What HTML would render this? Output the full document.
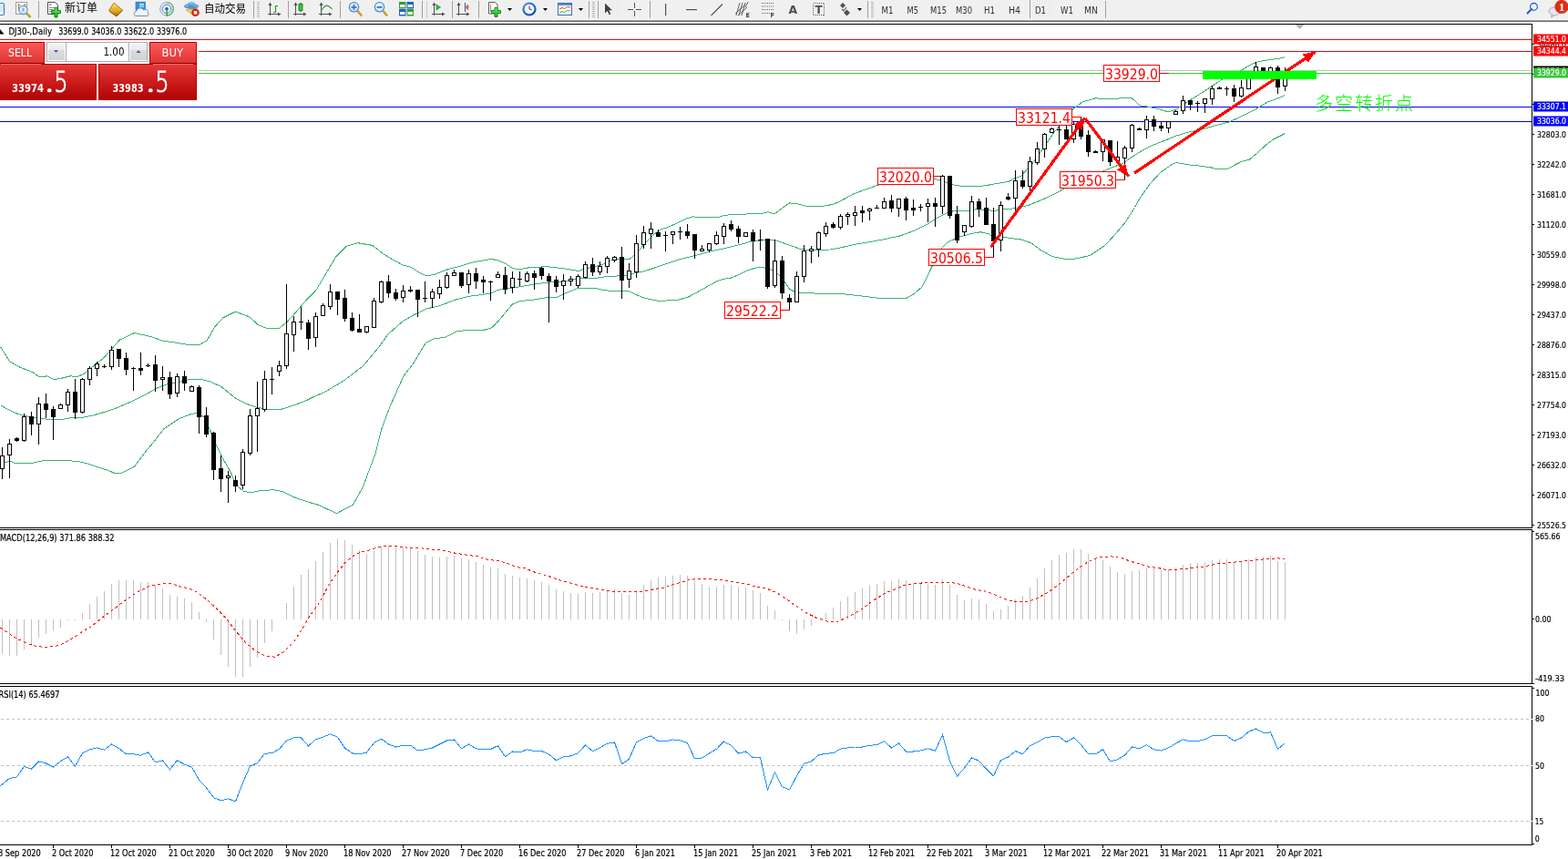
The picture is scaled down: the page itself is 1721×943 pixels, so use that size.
<!DOCTYPE html>
<html><head><meta charset="utf-8"><title>DJ30 Daily</title>
<style>
html,body{margin:0;padding:0;width:1721px;height:943px;overflow:hidden;background:#fff;}
svg{position:absolute;left:0;top:0;display:block}
</style></head><body>
<svg width="1721" height="943" viewBox="0 0 1721 943">
<rect x="0" y="0" width="1721" height="21" fill="#f0f0f0"/>
<rect x="0" y="21" width="1721" height="1" fill="#f6f6f6"/>
<rect x="0" y="22" width="1721" height="1" fill="#a0a0a0"/>
<rect x="0" y="23" width="1721" height="1" fill="#696969"/>
<defs><pattern id="dots" width="2" height="2" patternUnits="userSpaceOnUse"><rect x="0" y="0" width="1" height="1" fill="#e6e6e6"/><rect x="1" y="1" width="1" height="1" fill="#e6e6e6"/></pattern><linearGradient id="gold" x1="0" y1="0" x2="0" y2="1"><stop offset="0" stop-color="#ffe070"/><stop offset="0.6" stop-color="#e0a820"/><stop offset="1" stop-color="#a06810"/></linearGradient><linearGradient id="zoomfill" x1="0" y1="0" x2="0" y2="1"><stop offset="0" stop-color="#f4fbff"/><stop offset="1" stop-color="#c8e4f4"/></linearGradient><radialGradient id="clockg" cx="0.4" cy="0.35" r="0.7"><stop offset="0" stop-color="#6ab0ff"/><stop offset="1" stop-color="#0848b0"/></radialGradient><linearGradient id="hat" x1="0" y1="0" x2="0" y2="1"><stop offset="0" stop-color="#9ad0f0"/><stop offset="1" stop-color="#3c88c8"/></linearGradient><linearGradient id="greenp" x1="0" y1="0" x2="0" y2="1"><stop offset="0" stop-color="#70f070"/><stop offset="1" stop-color="#10b010"/></linearGradient></defs>
<rect x="-8" y="3.5" width="12.5" height="13" rx="1.5" fill="#fff" stroke="#3a7cc8" stroke-width="1.2"/>
<rect x="0" y="5.5" width="4" height="1" fill="#b8d0f0"/>
<rect x="0" y="7.5" width="4" height="1" fill="#b8d0f0"/>
<rect x="0" y="9.5" width="4" height="1" fill="#b8d0f0"/>
<rect x="0" y="11.5" width="4" height="1" fill="#b8d0f0"/>
<rect x="17.5" y="2.5" width="12" height="13" fill="#fff" stroke="#a8a088" stroke-width="1"/>
<path d="M20.5 4v8M20.5 5l2 1M27 4v8M27 5l1.5 1" stroke="#707070" stroke-width="0.8" fill="none"/>
<line x1="29.5" y1="15" x2="33.5" y2="19" stroke="#c8a020" stroke-width="2.6"/>
<circle cx="25.5" cy="11" r="4.6" fill="url(#zoomfill)" stroke="#5a94d8" stroke-width="1.1"/>
<rect x="24.5" y="8.5" width="2" height="4" fill="#98a8b8"/>
<rect x="42" y="1" width="1" height="19" fill="#a0a0a0"/>
<path d="M52.5 2.5h8l3 3v10h-11z" fill="#fff" stroke="#505050" stroke-width="1"/>
<rect x="54" y="4.5" width="2.5" height="1.2" fill="#707070"/><rect x="54" y="8" width="6" height="0.9" fill="#808080"/><rect x="54" y="10" width="5" height="0.9" fill="#808080"/><rect x="54" y="12" width="3" height="0.9" fill="#808080"/>
<path d="M60 8.5h3v3h3.5v3h-3.5v4.5h-3v-4.5h-3.5v-3h3.5z" fill="url(#greenp)" stroke="#0a8a0a" stroke-width="0.9"/>
<text x="71" y="13" font-size="12" font-family="'Liberation Sans', 'Noto Sans CJK SC', sans-serif" fill="#000" textLength="36" lengthAdjust="spacingAndGlyphs">新订单</text>
<path d="M119.5 11.5 L125 3 L134.5 11 L128 18 Z" fill="url(#gold)" stroke="#a06a10" stroke-width="0.8"/>
<path d="M120 12.5 L128 18 L134.5 11.5" fill="none" stroke="#8a5808" stroke-width="0.9"/>
<rect x="149" y="2.2" width="10.5" height="9" fill="#2f8fe8" stroke="#1a68c0" stroke-width="0.6"/>
<rect x="153" y="4" width="5" height="1.5" fill="#d8ecff"/><rect x="153" y="6.5" width="5" height="1.2" fill="#d8ecff"/>
<path d="M148.5 17.5 a3 3 0 0 1 1.2 -5.3 a4.2 4.2 0 0 1 7.8 -1.2 a3.2 3.2 0 0 1 5 3.4 a2 2 0 0 1 -0.5 3.1 z" fill="#f0f4f8" stroke="#6a84a8" stroke-width="0.9"/>
<circle cx="183" cy="9.8" r="7.3" fill="none" stroke="#6090d8" stroke-width="1" opacity="0.8"/>
<circle cx="183" cy="9.8" r="4.8" fill="none" stroke="#4a80d0" stroke-width="1"/>
<path d="M183 2.5 a7.3 7.3 0 0 1 0 14.6" fill="none" stroke="#60b060" stroke-width="1.2"/>
<circle cx="183" cy="9.8" r="1.8" fill="#2050c0"/>
<rect x="182.5" y="10" width="1.3" height="7.5" fill="#20a020"/>
<path d="M204 11 L216 9 L214 18 Z" fill="#f0d050" stroke="#c0a030" stroke-width="0.6"/>
<ellipse cx="210" cy="6.8" rx="7.8" ry="2.6" fill="url(#hat)" stroke="#3a80c0" stroke-width="0.6"/>
<ellipse cx="210" cy="4.8" rx="4.2" ry="3" fill="url(#hat)"/>
<circle cx="214.5" cy="13.8" r="4.3" fill="#d82010"/>
<rect x="212.7" y="12" width="3.6" height="3.6" fill="#fff"/>
<text x="224" y="13.5" font-size="12" font-family="'Liberation Sans', 'Noto Sans CJK SC', sans-serif" fill="#000" textLength="46" lengthAdjust="spacingAndGlyphs">自动交易</text>
<rect x="278" y="1" width="1" height="19" fill="#a0a0a0"/>
<rect x="282" y="2" width="3" height="1" fill="#b8b8b8"/><rect x="282" y="4" width="3" height="1" fill="#b8b8b8"/><rect x="282" y="6" width="3" height="1" fill="#b8b8b8"/><rect x="282" y="8" width="3" height="1" fill="#b8b8b8"/><rect x="282" y="10" width="3" height="1" fill="#b8b8b8"/><rect x="282" y="12" width="3" height="1" fill="#b8b8b8"/><rect x="282" y="14" width="3" height="1" fill="#b8b8b8"/><rect x="282" y="16" width="3" height="1" fill="#b8b8b8"/><rect x="282" y="18" width="3" height="1" fill="#b8b8b8"/>
<rect x="296" y="3" width="1" height="14" fill="#505050"/><polygon points="294.5,6 296.5,2.5 298.5,6" fill="#505050"/><rect x="294" y="15" width="14" height="1" fill="#505050"/><polygon points="305,13.5 308.5,15.5 305,17.5" fill="#505050"/>
<path d="M300 13.5h2.5v-7h2.5" fill="none" stroke="#20a020" stroke-width="1.2"/>
<rect x="316" y="1" width="1" height="19" fill="#a0a0a0"/>
<rect x="317" y="0" width="24" height="20" fill="#f7f7f7"/><rect x="317" y="0" width="24" height="20" fill="url(#dots)"/>
<rect x="324" y="3" width="1" height="14" fill="#505050"/><polygon points="322.5,6 324.5,2.5 326.5,6" fill="#505050"/><rect x="322" y="15" width="14" height="1" fill="#505050"/><polygon points="333,13.5 336.5,15.5 333,17.5" fill="#505050"/>
<rect x="329.5" y="2.5" width="1" height="11" fill="#107010"/>
<rect x="328" y="4.5" width="4" height="7" fill="#30d030" stroke="#107010" stroke-width="0.8"/>
<rect x="352" y="3" width="1" height="14" fill="#505050"/><polygon points="350.5,6 352.5,2.5 354.5,6" fill="#505050"/><rect x="350" y="15" width="14" height="1" fill="#505050"/><polygon points="361,13.5 364.5,15.5 361,17.5" fill="#505050"/>
<path d="M352.5 12 Q357 4 361 7 T364 10" fill="none" stroke="#20a020" stroke-width="1.1"/>
<rect x="373" y="1" width="1" height="19" fill="#a0a0a0"/>
<line x1="392.5" y1="12" x2="397.0" y2="17.5" stroke="#c8a020" stroke-width="2.6"/>
<circle cx="388.5" cy="7.8" r="5.2" fill="url(#zoomfill)" stroke="#4a88d0" stroke-width="1.2"/>
<rect x="385.5" y="7" width="6" height="1.8" fill="#3a78c0"/>
<rect x="387.6" y="4.8" width="1.8" height="6" fill="#3a78c0"/>
<line x1="420.5" y1="12" x2="425.0" y2="17.5" stroke="#c8a020" stroke-width="2.6"/>
<circle cx="416.5" cy="7.8" r="5.2" fill="url(#zoomfill)" stroke="#4a88d0" stroke-width="1.2"/>
<rect x="413.5" y="7" width="6" height="1.8" fill="#3a78c0"/>
<rect x="438" y="2" width="7.5" height="7.5" fill="#30a030"/>
<rect x="439" y="5" width="5.5" height="3" fill="#f0f4f0"/>
<rect x="446.5" y="2" width="7.5" height="7.5" fill="#2060d0"/>
<rect x="447.5" y="5" width="5.5" height="3" fill="#f0f4f0"/>
<rect x="438" y="10" width="7.5" height="7.5" fill="#2060d0"/>
<rect x="439" y="13" width="5.5" height="3" fill="#f0f4f0"/>
<rect x="446.5" y="10" width="7.5" height="7.5" fill="#30a030"/>
<rect x="447.5" y="13" width="5.5" height="3" fill="#f0f4f0"/>
<rect x="463" y="1" width="1" height="19" fill="#a0a0a0"/>
<rect x="468" y="1" width="1" height="19" fill="#c8c8c8"/>
<rect x="469" y="0" width="24" height="20" fill="#f7f7f7"/><rect x="469" y="0" width="24" height="20" fill="url(#dots)"/>
<rect x="476" y="3" width="1" height="14" fill="#505050"/><polygon points="474.5,6 476.5,2.5 478.5,6" fill="#505050"/><rect x="474" y="15" width="14" height="1" fill="#505050"/><polygon points="485,13.5 488.5,15.5 485,17.5" fill="#505050"/>
<polygon points="479,5 479,11 483.5,8" fill="#30c030" stroke="#108010" stroke-width="0.6"/>
<rect x="496" y="1" width="1" height="19" fill="#a0a0a0"/>
<rect x="497" y="0" width="24" height="20" fill="#f7f7f7"/><rect x="497" y="0" width="24" height="20" fill="url(#dots)"/>
<rect x="503" y="3" width="1" height="14" fill="#505050"/><polygon points="501.5,6 503.5,2.5 505.5,6" fill="#505050"/><rect x="501" y="15" width="14" height="1" fill="#505050"/><polygon points="512,13.5 515.5,15.5 512,17.5" fill="#505050"/>
<rect x="510" y="3" width="1" height="10" fill="#2060c0"/>
<path d="M511.5 8h3.5M511.5 8l2.5 -2.5M511.5 8l2.5 2.5" stroke="#e04010" stroke-width="1.1" fill="none"/>
<rect x="525" y="1" width="1" height="19" fill="#a0a0a0"/>
<path d="M536.5 2.5h7l2.5 2.5v10h-9.5z" fill="#fff" stroke="#606060" stroke-width="1"/>
<path d="M538.5 5v8" stroke="#707070" stroke-width="0.8"/>
<path d="M543 8.5h3v3h3.5v3h-3.5v4h-3v-4h-3.5v-3h3.5z" fill="url(#greenp)" stroke="#0a8a0a" stroke-width="0.9"/>
<polygon points="557.0,9 562.0,9 559.5,12" fill="#000"/>
<circle cx="581" cy="10" r="7.6" fill="url(#clockg)"/>
<circle cx="581" cy="10" r="5.3" fill="#f4f8fc"/>
<path d="M581 6.5v3.8h2.8" stroke="#404040" stroke-width="1" fill="none"/>
<polygon points="596.0,9 601.0,9 598.5,12" fill="#000"/>
<rect x="612.5" y="3.5" width="15" height="13" fill="#fff" stroke="#3a6cb0" stroke-width="1"/>
<rect x="613" y="4" width="14" height="2" fill="#5a8ad0"/>
<path d="M614 10l3 -1.5 2.5 1 3 -2 3.5 0.5" stroke="#c03020" stroke-width="0.9" fill="none"/>
<path d="M614 14l3 -1.5 2.5 1 3 -2 3.5 0.5" stroke="#20a020" stroke-width="0.9" fill="none"/>
<polygon points="635.0,9 640.0,9 637.5,12" fill="#000"/>
<rect x="646" y="1" width="1" height="19" fill="#a0a0a0"/>
<rect x="650" y="2" width="3" height="1" fill="#b8b8b8"/><rect x="650" y="4" width="3" height="1" fill="#b8b8b8"/><rect x="650" y="6" width="3" height="1" fill="#b8b8b8"/><rect x="650" y="8" width="3" height="1" fill="#b8b8b8"/><rect x="650" y="10" width="3" height="1" fill="#b8b8b8"/><rect x="650" y="12" width="3" height="1" fill="#b8b8b8"/><rect x="650" y="14" width="3" height="1" fill="#b8b8b8"/><rect x="650" y="16" width="3" height="1" fill="#b8b8b8"/><rect x="650" y="18" width="3" height="1" fill="#b8b8b8"/>
<rect x="656" y="1" width="1" height="19" fill="#a0a0a0"/>
<rect x="657" y="0" width="24" height="20" fill="#f7f7f7"/><rect x="657" y="0" width="24" height="20" fill="url(#dots)"/>
<path d="M664 3.5v11l2.6-2.6 2.2 4.3 1.6-0.8-2.1-4.2h3.6z" fill="#404040"/>
<rect x="689" y="10" width="15" height="1" fill="#505050"/><rect x="696" y="3" width="1" height="15" fill="#505050"/>
<rect x="695" y="9" width="3" height="3" fill="#f0f0f0"/>
<rect x="713" y="1" width="1" height="19" fill="#a0a0a0"/>
<rect x="730" y="4" width="1.2" height="13" fill="#505050"/>
<rect x="753" y="10" width="12" height="1.2" fill="#505050"/>
<line x1="780.5" y1="17" x2="793" y2="4.5" stroke="#505050" stroke-width="1.1"/>
<path d="M807 15l10 -9M810 17l10 -9M812 3l-4 14M815 3l-4 14M818 3l-4 14M821 2l-3 6" stroke="#505050" stroke-width="0.9" fill="none"/>
<text x="818.5" y="18.6" font-size="6.5" font-weight="bold" font-family="'DejaVu Sans', 'Liberation Sans', sans-serif" fill="#404040">E</text>
<line x1="836" y1="3.5" x2="849" y2="3.5" stroke="#606060" stroke-width="1" stroke-dasharray="1 1"/>
<line x1="836" y1="7" x2="849" y2="7" stroke="#606060" stroke-width="1" stroke-dasharray="1 1"/>
<line x1="836" y1="10.5" x2="849" y2="10.5" stroke="#606060" stroke-width="1" stroke-dasharray="1 1"/>
<line x1="836" y1="14.5" x2="849" y2="14.5" stroke="#606060" stroke-width="1" stroke-dasharray="1 1"/>
<text x="845.5" y="19.3" font-size="6.5" font-weight="bold" font-family="'DejaVu Sans', 'Liberation Sans', sans-serif" fill="#404040">F</text>
<text x="865.5" y="15" font-size="12.5" font-weight="bold" font-family="'DejaVu Sans', 'Liberation Sans', sans-serif" fill="#505050">A</text>
<rect x="892.5" y="3.5" width="12" height="13" fill="none" stroke="#606060" stroke-width="1" stroke-dasharray="1 1" shape-rendering="crispEdges"/>
<text x="894.5" y="15" font-size="12" font-weight="bold" font-family="'DejaVu Sans', 'Liberation Sans', sans-serif" fill="#505050">T</text>
<polygon points="922,6 925,3 928,6 925,9" fill="#505050"/><polygon points="926,14 929.5,10.5 933,14 929.5,17.5" fill="#505050"/>
<path d="M924 10l2 2 3-4" stroke="#505050" stroke-width="1.1" fill="none"/>
<polygon points="941.0,9 946.0,9 943.5,12" fill="#000"/>
<rect x="952" y="1" width="1" height="19" fill="#a0a0a0"/>
<rect x="956" y="2" width="3" height="1" fill="#b8b8b8"/><rect x="956" y="4" width="3" height="1" fill="#b8b8b8"/><rect x="956" y="6" width="3" height="1" fill="#b8b8b8"/><rect x="956" y="8" width="3" height="1" fill="#b8b8b8"/><rect x="956" y="10" width="3" height="1" fill="#b8b8b8"/><rect x="956" y="12" width="3" height="1" fill="#b8b8b8"/><rect x="956" y="14" width="3" height="1" fill="#b8b8b8"/><rect x="956" y="16" width="3" height="1" fill="#b8b8b8"/><rect x="956" y="18" width="3" height="1" fill="#b8b8b8"/>
<rect x="1130" y="0" width="25" height="20" fill="#f7f7f7"/><rect x="1130" y="0" width="25" height="20" fill="url(#dots)"/>
<rect x="1130" y="0" width="1" height="20" fill="#a0a0a0"/>
<text x="967.5" y="14.5" font-size="11" font-family="'DejaVu Sans', 'Liberation Sans', sans-serif" fill="#303030" textLength="13" lengthAdjust="spacingAndGlyphs">M1</text>
<text x="995.5" y="14.5" font-size="11" font-family="'DejaVu Sans', 'Liberation Sans', sans-serif" fill="#303030" textLength="12.5" lengthAdjust="spacingAndGlyphs">M5</text>
<text x="1021" y="14.5" font-size="11" font-family="'DejaVu Sans', 'Liberation Sans', sans-serif" fill="#303030" textLength="18" lengthAdjust="spacingAndGlyphs">M15</text>
<text x="1049" y="14.5" font-size="11" font-family="'DejaVu Sans', 'Liberation Sans', sans-serif" fill="#303030" textLength="18" lengthAdjust="spacingAndGlyphs">M30</text>
<text x="1080" y="14.5" font-size="11" font-family="'DejaVu Sans', 'Liberation Sans', sans-serif" fill="#303030" textLength="12" lengthAdjust="spacingAndGlyphs">H1</text>
<text x="1107" y="14.5" font-size="11" font-family="'DejaVu Sans', 'Liberation Sans', sans-serif" fill="#303030" textLength="13" lengthAdjust="spacingAndGlyphs">H4</text>
<text x="1136" y="14.5" font-size="11" font-family="'DejaVu Sans', 'Liberation Sans', sans-serif" fill="#303030" textLength="12" lengthAdjust="spacingAndGlyphs">D1</text>
<text x="1164" y="14.5" font-size="11" font-family="'DejaVu Sans', 'Liberation Sans', sans-serif" fill="#303030" textLength="14" lengthAdjust="spacingAndGlyphs">W1</text>
<text x="1190" y="14.5" font-size="11" font-family="'DejaVu Sans', 'Liberation Sans', sans-serif" fill="#303030" textLength="15" lengthAdjust="spacingAndGlyphs">MN</text>
<rect x="1213" y="1" width="1" height="19" fill="#a0a0a0"/>
<circle cx="1683.5" cy="7.4" r="3.9" fill="#f4f4ff" stroke="#2a62d0" stroke-width="1.3"/>
<line x1="1681" y1="10" x2="1676.5" y2="14.5" stroke="#2a62d0" stroke-width="2.2" stroke-linecap="round"/>
<ellipse cx="1706" cy="12.5" rx="6" ry="4.5" fill="#e4e4f0" stroke="#a8a8a8" stroke-width="0.9"/>
<path d="M1703.5 16l-0.8 3 3-2.4" fill="#e4e4f0" stroke="#909090" stroke-width="0.8"/>
<circle cx="1714" cy="7.5" r="7.6" fill="#dc3018"/>
<text x="1714" y="12" font-size="12.5" font-weight="bold" font-family="'Liberation Serif', serif" fill="#fff" text-anchor="middle">1</text>
<g shape-rendering="crispEdges">
<rect x="0" y="26" width="1682" height="1" fill="#000"/>
<rect x="0" y="579" width="1682" height="1" fill="#000"/>
<rect x="0" y="581" width="1682" height="1" fill="#000"/>
<rect x="0" y="750" width="1682" height="1" fill="#000"/>
<rect x="0" y="753" width="1682" height="1" fill="#000"/>
<rect x="0" y="927" width="1682" height="1" fill="#000"/>
<rect x="1681" y="26" width="1" height="554" fill="#000"/>
<rect x="1681" y="581" width="1" height="170" fill="#000"/>
<rect x="1681" y="753" width="1" height="175" fill="#000"/>
<rect x="0" y="43" width="1681" height="1" fill="#ff0000"/>
<rect x="0" y="56" width="1681" height="1" fill="#ff0000"/>
<rect x="0" y="77" width="1681" height="1" fill="#c0c0c0"/>
<rect x="0" y="80" width="1681" height="1" fill="#32cd32"/>
<rect x="0" y="117" width="1681" height="1" fill="#0000ff"/>
<rect x="0" y="133" width="1681" height="1" fill="#0000ff"/>
<polyline points="0.5,380.7 10.7,396.8 22.5,403.5 36.2,408.7 42.9,413.8 51.5,412.9 59.9,416.7 68.5,415 76.9,412.9 85.5,413.3 92.2,410.4 102.5,401.9 112.5,394.3 122.5,383.2 131.3,373.1 147.5,365.5 165.5,369.5 178.2,374 196.2,376.7 208.8,378.9 218.8,378.5 226.9,374 235.9,358.7 244.9,348.8 258.4,342.1 273.7,347.8 283.6,356.9 293.5,360.5 306.2,360.5 315.2,353.3 326.1,341.2 335,330.7 346.5,319.2 353.1,308.2 369.3,281.1 380.1,270.3 392.7,266.7 408.9,269.4 420.5,278.5 427.3,282.8 442.5,291.2 451.1,293.3 459.5,298.9 468,302.8 476.5,301.5 491.8,295.5 508.8,291.2 515.5,288.7 525.8,286.7 539.3,284.5 545.5,285.5 554,288.9 562.5,294.5 569.3,296 579.5,294 599.8,292.6 616.8,294.5 630.5,296.7 635.8,297.8 641.1,295.1 646.4,294.1 653.8,292.5 662.3,289.8 669.7,286.1 675,284.5 690.9,284.5 696.2,280.3 702.6,273.4 710,264.9 717.5,257.5 725.9,251.6 731.6,250.2 741.8,245.5 752,240.4 760.5,237.9 769,238.7 787.6,238.7 796.1,236.2 809.1,235.3 836.2,234.5 843,232.8 849.8,235 860,227.3 866.8,222.9 875.3,223.9 887.2,226.8 900.8,226.8 914.3,224.3 920.5,221.8 937.5,212.5 954.5,206.5 963.8,203.1 990.5,200 1025.3,196.3 1032.5,198 1042.7,201.5 1045.5,202.8 1057,204.7 1072.3,204.9 1085,203.1 1097.8,200.9 1106.5,199.5 1114.3,195.5 1120.5,193.4 1133.2,179.4 1145.9,161.6 1156.1,146.3 1163.8,137.4 1177.8,119.6 1181.5,117 1187.9,112 1201.9,107.9 1215.9,108.4 1231.2,107.9 1242.6,107.9 1250.7,115.9 1260.9,117.2 1272.3,119.8 1282.5,122.9 1291.4,120 1299,114.7 1306.7,109.6 1319.4,101.7 1331.5,93.6 1341.2,87.4 1352.2,82.6 1361.9,77.7 1371.5,71.5 1379.8,68.1 1392.2,65.7 1403.3,64.4 1410.5,62.6" fill="none" stroke="#3cb371" stroke-width="1"/>
<polyline points="0.5,444.7 9,449.5 17.5,453.7 26,456.2 34.5,457.9 44.5,459.6 56.5,460.5 68.5,460.5 76.9,458.8 88.5,458.8 102.5,455.9 116,452 125.5,448.9 145.9,440.1 159.5,433.3 173,425.7 181.5,422.3 193.5,420.1 207,416.7 218.9,416 225.5,417.5 230.5,418.9 242.5,424.3 251,431.1 259.5,437.9 269.5,442.9 281.5,447.2 295.1,449.7 307,449.7 312.5,448.2 320.5,445.6 333.9,440.7 346.5,434.6 356.1,430.7 363.5,426.1 378.4,417.3 398.5,401.7 415.5,381.5 425.5,367.5 431.9,361.6 442.5,352.4 454.5,345.5 468,339.1 483.3,335.4 498.5,329.5 515.5,325.2 529.2,323.5 539.3,321.8 545.5,318.9 550.5,317.5 562.5,316.1 579.5,313.2 599.8,310.1 616.8,309.3 630.5,306.8 639,305.7 651.7,305.7 662.3,304.1 672.9,303.1 681.4,302.9 685.6,302.5 696.2,299.9 706.9,297.8 715.3,295.1 722.8,292.5 730.5,289.8 746.9,284.5 763.9,280.3 779.2,276.1 795.5,272.7 812.5,268.4 826.1,264.7 841.3,263.3 851.5,263.7 866.8,269.3 878.7,273.5 890.5,274.7 910.9,274 920.5,272.4 937.5,268.5 954.5,265.6 971.5,262.5 988.5,258.8 1005.4,252.4 1019,245.5 1029.2,238.8 1039.3,233.7 1045.5,232 1050.5,231.1 1060.9,232 1072.3,229.5 1091.4,231.4 1104.1,229.5 1116.8,228.6 1129.5,225 1142.3,219.9 1155,214.2 1166.5,207.9 1187.5,198 1209.5,188.3 1222.3,183.2 1232.5,179.4 1241.4,173 1253.2,165.6 1265.9,159.2 1278.7,154.1 1291.4,149 1304.1,145.2 1316.8,142.7 1334.3,137.7 1348.1,134.3 1361.9,128.1 1375.7,121.2 1382.6,117.1 1392.2,111.5 1400.5,108.8 1410.2,104.6" fill="none" stroke="#3cb371" stroke-width="1"/>
<polyline points="0.5,508.5 5.5,508 10.7,506 17.5,508.9 34.5,508.9 42.9,506.3 54.8,505.1 68.5,505.5 85.5,506.3 95.5,508.9 105.5,512.3 119.3,516.5 125.5,519.5 132.3,519.9 147.5,512.3 159.5,496.1 169.5,484.3 179.8,470.7 196.8,459.6 210.5,454.2 217.2,453.7 224,457.9 228.9,468.5 237.4,488.8 244.2,502.4 252.7,517.6 259.5,532.9 267.9,539.7 276.5,540.5 284.9,538.9 300.2,537.7 310.5,539.7 320.5,544.9 333.9,549.8 349.5,554.3 369.5,563.6 387.3,554.3 398.5,534.2 411.8,498.5 418.5,471.9 427.5,447.4 443,412.8 454.1,398.4 467.5,376.1 476.5,371.9 488.5,370.2 502,363.4 515.5,362.5 530.9,362.5 539.3,360 545.5,354.3 554,344.1 562.5,333.9 571,330.5 587.9,328.8 599.8,326.7 611.7,326.2 620.2,322 630.5,317.9 634.7,316.6 653.8,316.6 662.3,318.4 672.9,319.8 690.9,320 704.7,326.4 713.2,328.5 721.7,330.1 741.8,329.9 755.4,326.1 772.4,316.8 785.9,309.2 794.5,306.1 800.5,305.8 809.1,302.4 819.3,297.3 832.9,293 843,294.7 851.5,298.1 860,307.5 866.8,317.6 873.6,321 888.9,321.9 910.9,322.4 925.5,322.7 945.5,325 968.1,327.7 994.3,327.7 1003.5,322.5 1012.4,314.6 1022.5,293.5 1033.5,272.3 1040.5,265.7 1053.2,260 1065.9,256.6 1076.1,254.7 1085,256.6 1093.9,261.9 1104.1,260.7 1121.9,263.2 1132.1,267 1142.3,274.6 1155,281.6 1167.7,284.2 1180.5,284 1196.3,280.5 1212.9,269.4 1224.5,256.5 1234.9,244.5 1245.5,227.5 1251.5,217 1262.5,201.5 1273.5,189.5 1287.3,179.8 1291.4,178.5 1304.1,180.8 1316.8,182.1 1329.5,184 1337.1,186 1346.7,185.7 1361.9,177.7 1371.5,175 1379.8,168.1 1389.5,159.1 1397.7,152.9 1410.2,146.7" fill="none" stroke="#3cb371" stroke-width="1"/>
<rect x="2" y="491" width="1" height="35" fill="#000"/>
<rect x="0" y="500" width="5" height="15" fill="#000"/>
<rect x="1" y="501" width="3" height="13" fill="#fff"/>
<rect x="10" y="482" width="1" height="43" fill="#000"/>
<rect x="8" y="487" width="5" height="13" fill="#000"/>
<rect x="9" y="488" width="3" height="11" fill="#fff"/>
<rect x="18" y="480" width="1" height="5" fill="#000"/>
<rect x="16" y="481" width="5" height="3" fill="#000"/>
<rect x="26" y="454" width="1" height="31" fill="#000"/>
<rect x="24" y="457" width="5" height="27" fill="#000"/>
<rect x="25" y="458" width="3" height="25" fill="#fff"/>
<rect x="34" y="452" width="1" height="26" fill="#000"/>
<rect x="32" y="457" width="5" height="9" fill="#000"/>
<rect x="42" y="436" width="1" height="52" fill="#000"/>
<rect x="40" y="443" width="5" height="23" fill="#000"/>
<rect x="41" y="444" width="3" height="21" fill="#fff"/>
<rect x="50" y="432" width="1" height="27" fill="#000"/>
<rect x="48" y="443" width="5" height="7" fill="#000"/>
<rect x="58" y="446" width="1" height="37" fill="#000"/>
<rect x="56" y="449" width="5" height="9" fill="#000"/>
<rect x="66" y="443" width="1" height="6" fill="#000"/>
<rect x="64" y="444" width="5" height="5" fill="#000"/>
<rect x="65" y="445" width="3" height="3" fill="#fff"/>
<rect x="74" y="427" width="1" height="25" fill="#000"/>
<rect x="72" y="430" width="5" height="15" fill="#000"/>
<rect x="73" y="431" width="3" height="13" fill="#fff"/>
<rect x="82" y="416" width="1" height="44" fill="#000"/>
<rect x="80" y="430" width="5" height="23" fill="#000"/>
<rect x="90" y="415" width="1" height="39" fill="#000"/>
<rect x="88" y="416" width="5" height="37" fill="#000"/>
<rect x="89" y="417" width="3" height="35" fill="#fff"/>
<rect x="98" y="402" width="1" height="21" fill="#000"/>
<rect x="96" y="404" width="5" height="13" fill="#000"/>
<rect x="97" y="405" width="3" height="11" fill="#fff"/>
<rect x="106" y="397" width="1" height="16" fill="#000"/>
<rect x="104" y="399" width="5" height="6" fill="#000"/>
<rect x="105" y="400" width="3" height="4" fill="#fff"/>
<rect x="114" y="400" width="1" height="4" fill="#000"/>
<rect x="112" y="402" width="5" height="1" fill="#000"/>
<rect x="122" y="380" width="1" height="26" fill="#000"/>
<rect x="120" y="384" width="5" height="19" fill="#000"/>
<rect x="121" y="385" width="3" height="17" fill="#fff"/>
<rect x="130" y="383" width="1" height="20" fill="#000"/>
<rect x="128" y="383" width="5" height="11" fill="#000"/>
<rect x="138" y="387" width="1" height="25" fill="#000"/>
<rect x="136" y="393" width="5" height="13" fill="#000"/>
<rect x="146" y="403" width="1" height="26" fill="#000"/>
<rect x="144" y="404" width="5" height="1" fill="#000"/>
<rect x="154" y="387" width="1" height="25" fill="#000"/>
<rect x="152" y="404" width="5" height="3" fill="#000"/>
<rect x="162" y="399" width="1" height="4" fill="#000"/>
<rect x="160" y="401" width="5" height="1" fill="#000"/>
<rect x="170" y="390" width="1" height="40" fill="#000"/>
<rect x="168" y="400" width="5" height="18" fill="#000"/>
<rect x="178" y="402" width="1" height="27" fill="#000"/>
<rect x="176" y="414" width="5" height="3" fill="#000"/>
<rect x="177" y="415" width="3" height="1" fill="#fff"/>
<rect x="186" y="408" width="1" height="30" fill="#000"/>
<rect x="184" y="414" width="5" height="19" fill="#000"/>
<rect x="194" y="410" width="1" height="26" fill="#000"/>
<rect x="192" y="413" width="5" height="19" fill="#000"/>
<rect x="193" y="414" width="3" height="17" fill="#fff"/>
<rect x="202" y="407" width="1" height="22" fill="#000"/>
<rect x="200" y="413" width="5" height="8" fill="#000"/>
<rect x="210" y="423" width="1" height="7" fill="#000"/>
<rect x="208" y="424" width="5" height="6" fill="#000"/>
<rect x="209" y="425" width="3" height="4" fill="#fff"/>
<rect x="218" y="423" width="1" height="53" fill="#000"/>
<rect x="216" y="425" width="5" height="33" fill="#000"/>
<rect x="226" y="447" width="1" height="33" fill="#000"/>
<rect x="224" y="456" width="5" height="21" fill="#000"/>
<rect x="234" y="474" width="1" height="53" fill="#000"/>
<rect x="232" y="475" width="5" height="41" fill="#000"/>
<rect x="242" y="500" width="1" height="40" fill="#000"/>
<rect x="240" y="514" width="5" height="12" fill="#000"/>
<rect x="250" y="517" width="1" height="35" fill="#000"/>
<rect x="248" y="522" width="5" height="3" fill="#000"/>
<rect x="249" y="523" width="3" height="1" fill="#fff"/>
<rect x="258" y="522" width="1" height="18" fill="#000"/>
<rect x="256" y="527" width="5" height="7" fill="#000"/>
<rect x="266" y="493" width="1" height="44" fill="#000"/>
<rect x="264" y="496" width="5" height="37" fill="#000"/>
<rect x="265" y="497" width="3" height="35" fill="#fff"/>
<rect x="274" y="449" width="1" height="51" fill="#000"/>
<rect x="272" y="456" width="5" height="42" fill="#000"/>
<rect x="273" y="457" width="3" height="40" fill="#fff"/>
<rect x="282" y="419" width="1" height="77" fill="#000"/>
<rect x="280" y="448" width="5" height="9" fill="#000"/>
<rect x="281" y="449" width="3" height="7" fill="#fff"/>
<rect x="290" y="407" width="1" height="45" fill="#000"/>
<rect x="288" y="416" width="5" height="34" fill="#000"/>
<rect x="289" y="417" width="3" height="32" fill="#fff"/>
<rect x="298" y="403" width="1" height="30" fill="#000"/>
<rect x="296" y="416" width="5" height="1" fill="#000"/>
<rect x="306" y="396" width="1" height="17" fill="#000"/>
<rect x="304" y="401" width="5" height="7" fill="#000"/>
<rect x="305" y="402" width="3" height="5" fill="#fff"/>
<rect x="314" y="312" width="1" height="93" fill="#000"/>
<rect x="312" y="366" width="5" height="36" fill="#000"/>
<rect x="313" y="367" width="3" height="34" fill="#fff"/>
<rect x="322" y="347" width="1" height="39" fill="#000"/>
<rect x="320" y="353" width="5" height="15" fill="#000"/>
<rect x="321" y="354" width="3" height="13" fill="#fff"/>
<rect x="330" y="337" width="1" height="25" fill="#000"/>
<rect x="328" y="353" width="5" height="1" fill="#000"/>
<rect x="338" y="351" width="1" height="33" fill="#000"/>
<rect x="336" y="354" width="5" height="18" fill="#000"/>
<rect x="346" y="343" width="1" height="38" fill="#000"/>
<rect x="344" y="347" width="5" height="24" fill="#000"/>
<rect x="345" y="348" width="3" height="22" fill="#fff"/>
<rect x="354" y="333" width="1" height="14" fill="#000"/>
<rect x="352" y="335" width="5" height="12" fill="#000"/>
<rect x="353" y="336" width="3" height="10" fill="#fff"/>
<rect x="362" y="312" width="1" height="28" fill="#000"/>
<rect x="360" y="320" width="5" height="17" fill="#000"/>
<rect x="361" y="321" width="3" height="15" fill="#fff"/>
<rect x="370" y="320" width="1" height="26" fill="#000"/>
<rect x="368" y="320" width="5" height="9" fill="#000"/>
<rect x="378" y="318" width="1" height="35" fill="#000"/>
<rect x="376" y="327" width="5" height="23" fill="#000"/>
<rect x="386" y="343" width="1" height="21" fill="#000"/>
<rect x="384" y="349" width="5" height="14" fill="#000"/>
<rect x="394" y="345" width="1" height="20" fill="#000"/>
<rect x="392" y="361" width="5" height="4" fill="#000"/>
<rect x="402" y="358" width="1" height="8" fill="#000"/>
<rect x="400" y="358" width="5" height="7" fill="#000"/>
<rect x="401" y="359" width="3" height="5" fill="#fff"/>
<rect x="410" y="327" width="1" height="33" fill="#000"/>
<rect x="408" y="330" width="5" height="30" fill="#000"/>
<rect x="409" y="331" width="3" height="28" fill="#fff"/>
<rect x="418" y="308" width="1" height="25" fill="#000"/>
<rect x="416" y="309" width="5" height="23" fill="#000"/>
<rect x="417" y="310" width="3" height="21" fill="#fff"/>
<rect x="426" y="302" width="1" height="25" fill="#000"/>
<rect x="424" y="309" width="5" height="13" fill="#000"/>
<rect x="434" y="317" width="1" height="13" fill="#000"/>
<rect x="432" y="321" width="5" height="7" fill="#000"/>
<rect x="442" y="313" width="1" height="19" fill="#000"/>
<rect x="440" y="319" width="5" height="8" fill="#000"/>
<rect x="441" y="320" width="3" height="6" fill="#fff"/>
<rect x="450" y="314" width="1" height="7" fill="#000"/>
<rect x="448" y="318" width="5" height="2" fill="#000"/>
<rect x="458" y="318" width="1" height="30" fill="#000"/>
<rect x="456" y="318" width="5" height="11" fill="#000"/>
<rect x="466" y="309" width="1" height="23" fill="#000"/>
<rect x="464" y="327" width="5" height="1" fill="#000"/>
<rect x="474" y="317" width="1" height="21" fill="#000"/>
<rect x="472" y="320" width="5" height="8" fill="#000"/>
<rect x="473" y="321" width="3" height="6" fill="#fff"/>
<rect x="482" y="307" width="1" height="21" fill="#000"/>
<rect x="480" y="315" width="5" height="8" fill="#000"/>
<rect x="481" y="316" width="3" height="6" fill="#fff"/>
<rect x="490" y="299" width="1" height="18" fill="#000"/>
<rect x="488" y="302" width="5" height="14" fill="#000"/>
<rect x="489" y="303" width="3" height="12" fill="#fff"/>
<rect x="498" y="296" width="1" height="7" fill="#000"/>
<rect x="496" y="299" width="5" height="4" fill="#000"/>
<rect x="497" y="300" width="3" height="2" fill="#fff"/>
<rect x="506" y="299" width="1" height="17" fill="#000"/>
<rect x="504" y="299" width="5" height="15" fill="#000"/>
<rect x="514" y="296" width="1" height="26" fill="#000"/>
<rect x="512" y="300" width="5" height="13" fill="#000"/>
<rect x="513" y="301" width="3" height="11" fill="#fff"/>
<rect x="522" y="294" width="1" height="23" fill="#000"/>
<rect x="520" y="300" width="5" height="9" fill="#000"/>
<rect x="530" y="303" width="1" height="19" fill="#000"/>
<rect x="528" y="307" width="5" height="3" fill="#000"/>
<rect x="538" y="308" width="1" height="22" fill="#000"/>
<rect x="536" y="309" width="5" height="1" fill="#000"/>
<rect x="546" y="298" width="1" height="7" fill="#000"/>
<rect x="544" y="301" width="5" height="4" fill="#000"/>
<rect x="545" y="302" width="3" height="2" fill="#fff"/>
<rect x="554" y="293" width="1" height="30" fill="#000"/>
<rect x="552" y="302" width="5" height="16" fill="#000"/>
<rect x="562" y="298" width="1" height="24" fill="#000"/>
<rect x="560" y="305" width="5" height="11" fill="#000"/>
<rect x="561" y="306" width="3" height="9" fill="#fff"/>
<rect x="570" y="298" width="1" height="16" fill="#000"/>
<rect x="568" y="306" width="5" height="1" fill="#000"/>
<rect x="578" y="298" width="1" height="12" fill="#000"/>
<rect x="576" y="300" width="5" height="9" fill="#000"/>
<rect x="577" y="301" width="3" height="7" fill="#fff"/>
<rect x="586" y="297" width="1" height="21" fill="#000"/>
<rect x="584" y="300" width="5" height="5" fill="#000"/>
<rect x="594" y="293" width="1" height="14" fill="#000"/>
<rect x="592" y="294" width="5" height="9" fill="#000"/>
<rect x="602" y="300" width="1" height="54" fill="#000"/>
<rect x="600" y="303" width="5" height="6" fill="#000"/>
<rect x="610" y="303" width="1" height="18" fill="#000"/>
<rect x="608" y="307" width="5" height="8" fill="#000"/>
<rect x="618" y="301" width="1" height="28" fill="#000"/>
<rect x="616" y="308" width="5" height="6" fill="#000"/>
<rect x="617" y="309" width="3" height="4" fill="#fff"/>
<rect x="626" y="303" width="1" height="11" fill="#000"/>
<rect x="624" y="306" width="5" height="3" fill="#000"/>
<rect x="625" y="307" width="3" height="1" fill="#fff"/>
<rect x="634" y="301" width="1" height="15" fill="#000"/>
<rect x="632" y="303" width="5" height="11" fill="#000"/>
<rect x="633" y="304" width="3" height="9" fill="#fff"/>
<rect x="642" y="287" width="1" height="19" fill="#000"/>
<rect x="640" y="290" width="5" height="15" fill="#000"/>
<rect x="641" y="291" width="3" height="13" fill="#fff"/>
<rect x="650" y="283" width="1" height="20" fill="#000"/>
<rect x="648" y="290" width="5" height="9" fill="#000"/>
<rect x="658" y="287" width="1" height="15" fill="#000"/>
<rect x="656" y="292" width="5" height="7" fill="#000"/>
<rect x="657" y="293" width="3" height="5" fill="#fff"/>
<rect x="666" y="281" width="1" height="19" fill="#000"/>
<rect x="664" y="283" width="5" height="10" fill="#000"/>
<rect x="665" y="284" width="3" height="8" fill="#fff"/>
<rect x="674" y="281" width="1" height="7" fill="#000"/>
<rect x="672" y="282" width="5" height="4" fill="#000"/>
<rect x="673" y="283" width="3" height="2" fill="#fff"/>
<rect x="682" y="271" width="1" height="57" fill="#000"/>
<rect x="680" y="282" width="5" height="26" fill="#000"/>
<rect x="690" y="289" width="1" height="27" fill="#000"/>
<rect x="688" y="297" width="5" height="10" fill="#000"/>
<rect x="689" y="298" width="3" height="8" fill="#fff"/>
<rect x="698" y="258" width="1" height="47" fill="#000"/>
<rect x="696" y="267" width="5" height="32" fill="#000"/>
<rect x="697" y="268" width="3" height="30" fill="#fff"/>
<rect x="706" y="248" width="1" height="25" fill="#000"/>
<rect x="704" y="255" width="5" height="14" fill="#000"/>
<rect x="705" y="256" width="3" height="12" fill="#fff"/>
<rect x="714" y="244" width="1" height="29" fill="#000"/>
<rect x="712" y="251" width="5" height="6" fill="#000"/>
<rect x="713" y="252" width="3" height="4" fill="#fff"/>
<rect x="722" y="252" width="1" height="8" fill="#000"/>
<rect x="720" y="255" width="5" height="5" fill="#000"/>
<rect x="730" y="254" width="1" height="22" fill="#000"/>
<rect x="728" y="258" width="5" height="1" fill="#000"/>
<rect x="738" y="254" width="1" height="14" fill="#000"/>
<rect x="736" y="254" width="5" height="4" fill="#000"/>
<rect x="737" y="255" width="3" height="2" fill="#fff"/>
<rect x="746" y="249" width="1" height="14" fill="#000"/>
<rect x="744" y="254" width="5" height="1" fill="#000"/>
<rect x="754" y="246" width="1" height="16" fill="#000"/>
<rect x="752" y="254" width="5" height="5" fill="#000"/>
<rect x="762" y="257" width="1" height="27" fill="#000"/>
<rect x="760" y="257" width="5" height="18" fill="#000"/>
<rect x="770" y="269" width="1" height="7" fill="#000"/>
<rect x="768" y="273" width="5" height="3" fill="#000"/>
<rect x="769" y="274" width="3" height="1" fill="#fff"/>
<rect x="778" y="267" width="1" height="10" fill="#000"/>
<rect x="776" y="267" width="5" height="8" fill="#000"/>
<rect x="777" y="268" width="3" height="6" fill="#fff"/>
<rect x="786" y="254" width="1" height="15" fill="#000"/>
<rect x="784" y="258" width="5" height="10" fill="#000"/>
<rect x="785" y="259" width="3" height="8" fill="#fff"/>
<rect x="794" y="245" width="1" height="23" fill="#000"/>
<rect x="792" y="248" width="5" height="12" fill="#000"/>
<rect x="793" y="249" width="3" height="10" fill="#fff"/>
<rect x="802" y="242" width="1" height="12" fill="#000"/>
<rect x="800" y="246" width="5" height="6" fill="#000"/>
<rect x="810" y="248" width="1" height="19" fill="#000"/>
<rect x="808" y="251" width="5" height="9" fill="#000"/>
<rect x="818" y="255" width="1" height="5" fill="#000"/>
<rect x="816" y="255" width="5" height="5" fill="#000"/>
<rect x="817" y="256" width="3" height="3" fill="#fff"/>
<rect x="826" y="252" width="1" height="35" fill="#000"/>
<rect x="824" y="255" width="5" height="10" fill="#000"/>
<rect x="834" y="252" width="1" height="23" fill="#000"/>
<rect x="832" y="263" width="5" height="1" fill="#000"/>
<rect x="842" y="262" width="1" height="55" fill="#000"/>
<rect x="840" y="262" width="5" height="53" fill="#000"/>
<rect x="850" y="263" width="1" height="53" fill="#000"/>
<rect x="848" y="286" width="5" height="28" fill="#000"/>
<rect x="849" y="287" width="3" height="26" fill="#fff"/>
<rect x="858" y="281" width="1" height="47" fill="#000"/>
<rect x="856" y="286" width="5" height="36" fill="#000"/>
<rect x="866" y="323" width="1" height="18" fill="#000"/>
<rect x="864" y="327" width="5" height="5" fill="#000"/>
<rect x="874" y="298" width="1" height="34" fill="#000"/>
<rect x="872" y="303" width="5" height="29" fill="#000"/>
<rect x="873" y="304" width="3" height="27" fill="#fff"/>
<rect x="882" y="269" width="1" height="41" fill="#000"/>
<rect x="880" y="275" width="5" height="29" fill="#000"/>
<rect x="881" y="276" width="3" height="27" fill="#fff"/>
<rect x="890" y="270" width="1" height="19" fill="#000"/>
<rect x="888" y="273" width="5" height="3" fill="#000"/>
<rect x="889" y="274" width="3" height="1" fill="#fff"/>
<rect x="898" y="254" width="1" height="28" fill="#000"/>
<rect x="896" y="255" width="5" height="19" fill="#000"/>
<rect x="897" y="256" width="3" height="17" fill="#fff"/>
<rect x="906" y="244" width="1" height="16" fill="#000"/>
<rect x="904" y="248" width="5" height="9" fill="#000"/>
<rect x="905" y="249" width="3" height="7" fill="#fff"/>
<rect x="914" y="244" width="1" height="7" fill="#000"/>
<rect x="912" y="246" width="5" height="4" fill="#000"/>
<rect x="922" y="235" width="1" height="17" fill="#000"/>
<rect x="920" y="237" width="5" height="13" fill="#000"/>
<rect x="921" y="238" width="3" height="11" fill="#fff"/>
<rect x="930" y="233" width="1" height="14" fill="#000"/>
<rect x="928" y="235" width="5" height="3" fill="#000"/>
<rect x="929" y="236" width="3" height="1" fill="#fff"/>
<rect x="938" y="226" width="1" height="22" fill="#000"/>
<rect x="936" y="233" width="5" height="4" fill="#000"/>
<rect x="937" y="234" width="3" height="2" fill="#fff"/>
<rect x="946" y="226" width="1" height="18" fill="#000"/>
<rect x="944" y="231" width="5" height="3" fill="#000"/>
<rect x="954" y="228" width="1" height="14" fill="#000"/>
<rect x="952" y="229" width="5" height="3" fill="#000"/>
<rect x="953" y="230" width="3" height="1" fill="#fff"/>
<rect x="962" y="225" width="1" height="4" fill="#000"/>
<rect x="960" y="228" width="5" height="1" fill="#000"/>
<rect x="970" y="217" width="1" height="12" fill="#000"/>
<rect x="968" y="221" width="5" height="8" fill="#000"/>
<rect x="969" y="222" width="3" height="6" fill="#fff"/>
<rect x="978" y="214" width="1" height="19" fill="#000"/>
<rect x="976" y="220" width="5" height="9" fill="#000"/>
<rect x="986" y="218" width="1" height="20" fill="#000"/>
<rect x="984" y="218" width="5" height="11" fill="#000"/>
<rect x="985" y="219" width="3" height="9" fill="#fff"/>
<rect x="994" y="216" width="1" height="26" fill="#000"/>
<rect x="992" y="218" width="5" height="13" fill="#000"/>
<rect x="1002" y="219" width="1" height="18" fill="#000"/>
<rect x="1000" y="228" width="5" height="3" fill="#000"/>
<rect x="1010" y="224" width="1" height="8" fill="#000"/>
<rect x="1008" y="227" width="5" height="1" fill="#000"/>
<rect x="1018" y="218" width="1" height="26" fill="#000"/>
<rect x="1016" y="223" width="5" height="4" fill="#000"/>
<rect x="1017" y="224" width="3" height="2" fill="#fff"/>
<rect x="1026" y="217" width="1" height="32" fill="#000"/>
<rect x="1024" y="223" width="5" height="4" fill="#000"/>
<rect x="1034" y="192" width="1" height="43" fill="#000"/>
<rect x="1032" y="193" width="5" height="34" fill="#000"/>
<rect x="1033" y="194" width="3" height="32" fill="#fff"/>
<rect x="1042" y="193" width="1" height="47" fill="#000"/>
<rect x="1040" y="193" width="5" height="44" fill="#000"/>
<rect x="1050" y="226" width="1" height="41" fill="#000"/>
<rect x="1048" y="235" width="5" height="29" fill="#000"/>
<rect x="1058" y="247" width="1" height="12" fill="#000"/>
<rect x="1056" y="247" width="5" height="8" fill="#000"/>
<rect x="1057" y="248" width="3" height="6" fill="#fff"/>
<rect x="1066" y="215" width="1" height="35" fill="#000"/>
<rect x="1064" y="221" width="5" height="28" fill="#000"/>
<rect x="1065" y="222" width="3" height="26" fill="#fff"/>
<rect x="1074" y="218" width="1" height="20" fill="#000"/>
<rect x="1072" y="221" width="5" height="9" fill="#000"/>
<rect x="1082" y="217" width="1" height="30" fill="#000"/>
<rect x="1080" y="228" width="5" height="19" fill="#000"/>
<rect x="1090" y="228" width="1" height="55" fill="#000"/>
<rect x="1088" y="246" width="5" height="19" fill="#000"/>
<rect x="1098" y="221" width="1" height="55" fill="#000"/>
<rect x="1096" y="225" width="5" height="39" fill="#000"/>
<rect x="1097" y="226" width="3" height="37" fill="#fff"/>
<rect x="1106" y="212" width="1" height="8" fill="#000"/>
<rect x="1104" y="216" width="5" height="3" fill="#000"/>
<rect x="1114" y="187" width="1" height="46" fill="#000"/>
<rect x="1112" y="198" width="5" height="20" fill="#000"/>
<rect x="1113" y="199" width="3" height="18" fill="#fff"/>
<rect x="1122" y="187" width="1" height="20" fill="#000"/>
<rect x="1120" y="198" width="5" height="7" fill="#000"/>
<rect x="1130" y="172" width="1" height="39" fill="#000"/>
<rect x="1128" y="177" width="5" height="28" fill="#000"/>
<rect x="1129" y="178" width="3" height="26" fill="#fff"/>
<rect x="1138" y="156" width="1" height="25" fill="#000"/>
<rect x="1136" y="163" width="5" height="16" fill="#000"/>
<rect x="1137" y="164" width="3" height="14" fill="#fff"/>
<rect x="1146" y="146" width="1" height="27" fill="#000"/>
<rect x="1144" y="147" width="5" height="17" fill="#000"/>
<rect x="1145" y="148" width="3" height="15" fill="#fff"/>
<rect x="1154" y="140" width="1" height="6" fill="#000"/>
<rect x="1152" y="141" width="5" height="5" fill="#000"/>
<rect x="1153" y="142" width="3" height="3" fill="#fff"/>
<rect x="1162" y="138" width="1" height="21" fill="#000"/>
<rect x="1160" y="142" width="5" height="1" fill="#000"/>
<rect x="1170" y="138" width="1" height="15" fill="#000"/>
<rect x="1168" y="142" width="5" height="11" fill="#000"/>
<rect x="1178" y="134" width="1" height="23" fill="#000"/>
<rect x="1176" y="136" width="5" height="17" fill="#000"/>
<rect x="1177" y="137" width="3" height="15" fill="#fff"/>
<rect x="1186" y="128" width="1" height="25" fill="#000"/>
<rect x="1184" y="139" width="5" height="11" fill="#000"/>
<rect x="1194" y="143" width="1" height="29" fill="#000"/>
<rect x="1192" y="148" width="5" height="19" fill="#000"/>
<rect x="1202" y="165" width="1" height="3" fill="#000"/>
<rect x="1200" y="166" width="5" height="2" fill="#000"/>
<rect x="1210" y="153" width="1" height="24" fill="#000"/>
<rect x="1208" y="153" width="5" height="14" fill="#000"/>
<rect x="1209" y="154" width="3" height="12" fill="#fff"/>
<rect x="1218" y="154" width="1" height="28" fill="#000"/>
<rect x="1216" y="154" width="5" height="24" fill="#000"/>
<rect x="1226" y="155" width="1" height="22" fill="#000"/>
<rect x="1224" y="172" width="5" height="5" fill="#000"/>
<rect x="1225" y="173" width="3" height="3" fill="#fff"/>
<rect x="1234" y="160" width="1" height="38" fill="#000"/>
<rect x="1232" y="162" width="5" height="12" fill="#000"/>
<rect x="1233" y="163" width="3" height="10" fill="#fff"/>
<rect x="1242" y="136" width="1" height="31" fill="#000"/>
<rect x="1240" y="137" width="5" height="26" fill="#000"/>
<rect x="1241" y="138" width="3" height="24" fill="#fff"/>
<rect x="1250" y="140" width="1" height="3" fill="#000"/>
<rect x="1248" y="141" width="5" height="2" fill="#000"/>
<rect x="1258" y="127" width="1" height="25" fill="#000"/>
<rect x="1256" y="131" width="5" height="12" fill="#000"/>
<rect x="1257" y="132" width="3" height="10" fill="#fff"/>
<rect x="1266" y="127" width="1" height="17" fill="#000"/>
<rect x="1264" y="131" width="5" height="8" fill="#000"/>
<rect x="1274" y="134" width="1" height="10" fill="#000"/>
<rect x="1272" y="138" width="5" height="3" fill="#000"/>
<rect x="1282" y="133" width="1" height="13" fill="#000"/>
<rect x="1280" y="133" width="5" height="8" fill="#000"/>
<rect x="1281" y="134" width="3" height="6" fill="#fff"/>
<rect x="1290" y="121" width="1" height="5" fill="#000"/>
<rect x="1288" y="122" width="5" height="4" fill="#000"/>
<rect x="1289" y="123" width="3" height="2" fill="#fff"/>
<rect x="1298" y="105" width="1" height="20" fill="#000"/>
<rect x="1296" y="110" width="5" height="12" fill="#000"/>
<rect x="1297" y="111" width="3" height="10" fill="#fff"/>
<rect x="1306" y="110" width="1" height="11" fill="#000"/>
<rect x="1304" y="110" width="5" height="5" fill="#000"/>
<rect x="1314" y="111" width="1" height="12" fill="#000"/>
<rect x="1312" y="113" width="5" height="1" fill="#000"/>
<rect x="1322" y="108" width="1" height="16" fill="#000"/>
<rect x="1320" y="108" width="5" height="6" fill="#000"/>
<rect x="1321" y="109" width="3" height="4" fill="#fff"/>
<rect x="1330" y="94" width="1" height="21" fill="#000"/>
<rect x="1328" y="97" width="5" height="12" fill="#000"/>
<rect x="1329" y="98" width="3" height="10" fill="#fff"/>
<rect x="1338" y="95" width="1" height="3" fill="#000"/>
<rect x="1336" y="96" width="5" height="2" fill="#000"/>
<rect x="1346" y="95" width="1" height="10" fill="#000"/>
<rect x="1344" y="97" width="5" height="1" fill="#000"/>
<rect x="1354" y="93" width="1" height="19" fill="#000"/>
<rect x="1352" y="97" width="5" height="9" fill="#000"/>
<rect x="1362" y="88" width="1" height="19" fill="#000"/>
<rect x="1360" y="96" width="5" height="10" fill="#000"/>
<rect x="1361" y="97" width="3" height="8" fill="#fff"/>
<rect x="1370" y="83" width="1" height="15" fill="#000"/>
<rect x="1368" y="83" width="5" height="15" fill="#000"/>
<rect x="1369" y="84" width="3" height="13" fill="#fff"/>
<rect x="1378" y="68" width="1" height="16" fill="#000"/>
<rect x="1376" y="73" width="5" height="11" fill="#000"/>
<rect x="1377" y="74" width="3" height="9" fill="#fff"/>
<rect x="1386" y="74" width="1" height="9" fill="#000"/>
<rect x="1384" y="74" width="5" height="9" fill="#000"/>
<rect x="1394" y="73" width="1" height="12" fill="#000"/>
<rect x="1392" y="74" width="5" height="11" fill="#000"/>
<rect x="1393" y="75" width="3" height="9" fill="#fff"/>
<rect x="1402" y="72" width="1" height="31" fill="#000"/>
<rect x="1400" y="74" width="5" height="22" fill="#000"/>
<rect x="1410" y="74" width="1" height="26" fill="#000"/>
<rect x="1408" y="78" width="5" height="17" fill="#000"/>
<rect x="1409" y="79" width="3" height="15" fill="#fff"/>
<rect x="2" y="680" width="1" height="38" fill="#c0c0c0"/>
<rect x="10" y="680" width="1" height="40" fill="#c0c0c0"/>
<rect x="18" y="680" width="1" height="40" fill="#c0c0c0"/>
<rect x="26" y="680" width="1" height="33" fill="#c0c0c0"/>
<rect x="34" y="680" width="1" height="29" fill="#c0c0c0"/>
<rect x="42" y="680" width="1" height="20" fill="#c0c0c0"/>
<rect x="50" y="680" width="1" height="16" fill="#c0c0c0"/>
<rect x="58" y="680" width="1" height="12" fill="#c0c0c0"/>
<rect x="66" y="680" width="1" height="9" fill="#c0c0c0"/>
<rect x="74" y="680" width="1" height="1" fill="#c0c0c0"/>
<rect x="82" y="680" width="1" height="1" fill="#c0c0c0"/>
<rect x="90" y="673" width="1" height="7" fill="#c0c0c0"/>
<rect x="98" y="663" width="1" height="17" fill="#c0c0c0"/>
<rect x="106" y="655" width="1" height="25" fill="#c0c0c0"/>
<rect x="114" y="649" width="1" height="31" fill="#c0c0c0"/>
<rect x="122" y="641" width="1" height="39" fill="#c0c0c0"/>
<rect x="130" y="637" width="1" height="43" fill="#c0c0c0"/>
<rect x="138" y="637" width="1" height="43" fill="#c0c0c0"/>
<rect x="146" y="637" width="1" height="43" fill="#c0c0c0"/>
<rect x="154" y="639" width="1" height="41" fill="#c0c0c0"/>
<rect x="162" y="639" width="1" height="41" fill="#c0c0c0"/>
<rect x="170" y="643" width="1" height="37" fill="#c0c0c0"/>
<rect x="178" y="646" width="1" height="34" fill="#c0c0c0"/>
<rect x="186" y="653" width="1" height="27" fill="#c0c0c0"/>
<rect x="194" y="655" width="1" height="25" fill="#c0c0c0"/>
<rect x="202" y="657" width="1" height="23" fill="#c0c0c0"/>
<rect x="210" y="661" width="1" height="19" fill="#c0c0c0"/>
<rect x="218" y="672" width="1" height="8" fill="#c0c0c0"/>
<rect x="226" y="680" width="1" height="3" fill="#c0c0c0"/>
<rect x="234" y="680" width="1" height="22" fill="#c0c0c0"/>
<rect x="242" y="680" width="1" height="39" fill="#c0c0c0"/>
<rect x="250" y="680" width="1" height="52" fill="#c0c0c0"/>
<rect x="258" y="680" width="1" height="63" fill="#c0c0c0"/>
<rect x="266" y="680" width="1" height="63" fill="#c0c0c0"/>
<rect x="274" y="680" width="1" height="52" fill="#c0c0c0"/>
<rect x="282" y="680" width="1" height="42" fill="#c0c0c0"/>
<rect x="290" y="680" width="1" height="26" fill="#c0c0c0"/>
<rect x="298" y="680" width="1" height="13" fill="#c0c0c0"/>
<rect x="314" y="662" width="1" height="18" fill="#c0c0c0"/>
<rect x="322" y="644" width="1" height="36" fill="#c0c0c0"/>
<rect x="330" y="631" width="1" height="49" fill="#c0c0c0"/>
<rect x="338" y="625" width="1" height="55" fill="#c0c0c0"/>
<rect x="346" y="616" width="1" height="64" fill="#c0c0c0"/>
<rect x="354" y="606" width="1" height="74" fill="#c0c0c0"/>
<rect x="362" y="596" width="1" height="84" fill="#c0c0c0"/>
<rect x="370" y="591" width="1" height="89" fill="#c0c0c0"/>
<rect x="378" y="593" width="1" height="87" fill="#c0c0c0"/>
<rect x="386" y="598" width="1" height="82" fill="#c0c0c0"/>
<rect x="394" y="604" width="1" height="76" fill="#c0c0c0"/>
<rect x="402" y="608" width="1" height="72" fill="#c0c0c0"/>
<rect x="410" y="605" width="1" height="75" fill="#c0c0c0"/>
<rect x="418" y="600" width="1" height="80" fill="#c0c0c0"/>
<rect x="426" y="599" width="1" height="81" fill="#c0c0c0"/>
<rect x="434" y="600" width="1" height="80" fill="#c0c0c0"/>
<rect x="442" y="601" width="1" height="79" fill="#c0c0c0"/>
<rect x="450" y="602" width="1" height="78" fill="#c0c0c0"/>
<rect x="458" y="605" width="1" height="75" fill="#c0c0c0"/>
<rect x="466" y="609" width="1" height="71" fill="#c0c0c0"/>
<rect x="474" y="611" width="1" height="69" fill="#c0c0c0"/>
<rect x="482" y="612" width="1" height="68" fill="#c0c0c0"/>
<rect x="490" y="611" width="1" height="69" fill="#c0c0c0"/>
<rect x="498" y="610" width="1" height="70" fill="#c0c0c0"/>
<rect x="506" y="613" width="1" height="67" fill="#c0c0c0"/>
<rect x="514" y="614" width="1" height="66" fill="#c0c0c0"/>
<rect x="522" y="617" width="1" height="63" fill="#c0c0c0"/>
<rect x="530" y="620" width="1" height="60" fill="#c0c0c0"/>
<rect x="538" y="623" width="1" height="57" fill="#c0c0c0"/>
<rect x="546" y="624" width="1" height="56" fill="#c0c0c0"/>
<rect x="554" y="630" width="1" height="50" fill="#c0c0c0"/>
<rect x="562" y="632" width="1" height="48" fill="#c0c0c0"/>
<rect x="570" y="634" width="1" height="46" fill="#c0c0c0"/>
<rect x="578" y="635" width="1" height="45" fill="#c0c0c0"/>
<rect x="586" y="637" width="1" height="43" fill="#c0c0c0"/>
<rect x="594" y="639" width="1" height="41" fill="#c0c0c0"/>
<rect x="602" y="642" width="1" height="38" fill="#c0c0c0"/>
<rect x="610" y="647" width="1" height="33" fill="#c0c0c0"/>
<rect x="618" y="649" width="1" height="31" fill="#c0c0c0"/>
<rect x="626" y="651" width="1" height="29" fill="#c0c0c0"/>
<rect x="634" y="652" width="1" height="28" fill="#c0c0c0"/>
<rect x="642" y="650" width="1" height="30" fill="#c0c0c0"/>
<rect x="650" y="651" width="1" height="29" fill="#c0c0c0"/>
<rect x="658" y="650" width="1" height="30" fill="#c0c0c0"/>
<rect x="666" y="649" width="1" height="31" fill="#c0c0c0"/>
<rect x="674" y="647" width="1" height="33" fill="#c0c0c0"/>
<rect x="682" y="651" width="1" height="29" fill="#c0c0c0"/>
<rect x="690" y="653" width="1" height="27" fill="#c0c0c0"/>
<rect x="698" y="648" width="1" height="32" fill="#c0c0c0"/>
<rect x="706" y="642" width="1" height="38" fill="#c0c0c0"/>
<rect x="714" y="637" width="1" height="43" fill="#c0c0c0"/>
<rect x="722" y="634" width="1" height="46" fill="#c0c0c0"/>
<rect x="730" y="633" width="1" height="47" fill="#c0c0c0"/>
<rect x="738" y="632" width="1" height="48" fill="#c0c0c0"/>
<rect x="746" y="631" width="1" height="49" fill="#c0c0c0"/>
<rect x="754" y="632" width="1" height="48" fill="#c0c0c0"/>
<rect x="762" y="637" width="1" height="43" fill="#c0c0c0"/>
<rect x="770" y="641" width="1" height="39" fill="#c0c0c0"/>
<rect x="778" y="644" width="1" height="36" fill="#c0c0c0"/>
<rect x="786" y="644" width="1" height="36" fill="#c0c0c0"/>
<rect x="794" y="642" width="1" height="38" fill="#c0c0c0"/>
<rect x="802" y="642" width="1" height="38" fill="#c0c0c0"/>
<rect x="810" y="644" width="1" height="36" fill="#c0c0c0"/>
<rect x="818" y="645" width="1" height="35" fill="#c0c0c0"/>
<rect x="826" y="648" width="1" height="32" fill="#c0c0c0"/>
<rect x="834" y="651" width="1" height="29" fill="#c0c0c0"/>
<rect x="842" y="665" width="1" height="15" fill="#c0c0c0"/>
<rect x="850" y="670" width="1" height="10" fill="#c0c0c0"/>
<rect x="858" y="680" width="1" height="1" fill="#c0c0c0"/>
<rect x="866" y="680" width="1" height="13" fill="#c0c0c0"/>
<rect x="874" y="680" width="1" height="16" fill="#c0c0c0"/>
<rect x="882" y="680" width="1" height="11" fill="#c0c0c0"/>
<rect x="890" y="680" width="1" height="7" fill="#c0c0c0"/>
<rect x="906" y="673" width="1" height="7" fill="#c0c0c0"/>
<rect x="914" y="667" width="1" height="13" fill="#c0c0c0"/>
<rect x="922" y="660" width="1" height="20" fill="#c0c0c0"/>
<rect x="930" y="655" width="1" height="25" fill="#c0c0c0"/>
<rect x="938" y="650" width="1" height="30" fill="#c0c0c0"/>
<rect x="946" y="646" width="1" height="34" fill="#c0c0c0"/>
<rect x="954" y="643" width="1" height="37" fill="#c0c0c0"/>
<rect x="962" y="641" width="1" height="39" fill="#c0c0c0"/>
<rect x="970" y="638" width="1" height="42" fill="#c0c0c0"/>
<rect x="978" y="638" width="1" height="42" fill="#c0c0c0"/>
<rect x="986" y="636" width="1" height="44" fill="#c0c0c0"/>
<rect x="994" y="637" width="1" height="43" fill="#c0c0c0"/>
<rect x="1002" y="641" width="1" height="39" fill="#c0c0c0"/>
<rect x="1010" y="640" width="1" height="40" fill="#c0c0c0"/>
<rect x="1018" y="641" width="1" height="39" fill="#c0c0c0"/>
<rect x="1026" y="642" width="1" height="38" fill="#c0c0c0"/>
<rect x="1034" y="636" width="1" height="44" fill="#c0c0c0"/>
<rect x="1042" y="642" width="1" height="38" fill="#c0c0c0"/>
<rect x="1050" y="653" width="1" height="27" fill="#c0c0c0"/>
<rect x="1058" y="659" width="1" height="21" fill="#c0c0c0"/>
<rect x="1066" y="657" width="1" height="23" fill="#c0c0c0"/>
<rect x="1074" y="658" width="1" height="22" fill="#c0c0c0"/>
<rect x="1082" y="663" width="1" height="17" fill="#c0c0c0"/>
<rect x="1090" y="671" width="1" height="9" fill="#c0c0c0"/>
<rect x="1098" y="669" width="1" height="11" fill="#c0c0c0"/>
<rect x="1106" y="665" width="1" height="15" fill="#c0c0c0"/>
<rect x="1114" y="658" width="1" height="22" fill="#c0c0c0"/>
<rect x="1122" y="654" width="1" height="26" fill="#c0c0c0"/>
<rect x="1130" y="645" width="1" height="35" fill="#c0c0c0"/>
<rect x="1138" y="635" width="1" height="45" fill="#c0c0c0"/>
<rect x="1146" y="624" width="1" height="56" fill="#c0c0c0"/>
<rect x="1154" y="615" width="1" height="65" fill="#c0c0c0"/>
<rect x="1162" y="609" width="1" height="71" fill="#c0c0c0"/>
<rect x="1170" y="607" width="1" height="73" fill="#c0c0c0"/>
<rect x="1178" y="603" width="1" height="77" fill="#c0c0c0"/>
<rect x="1186" y="603" width="1" height="77" fill="#c0c0c0"/>
<rect x="1194" y="608" width="1" height="72" fill="#c0c0c0"/>
<rect x="1202" y="613" width="1" height="67" fill="#c0c0c0"/>
<rect x="1210" y="615" width="1" height="65" fill="#c0c0c0"/>
<rect x="1218" y="622" width="1" height="58" fill="#c0c0c0"/>
<rect x="1226" y="628" width="1" height="52" fill="#c0c0c0"/>
<rect x="1234" y="630" width="1" height="50" fill="#c0c0c0"/>
<rect x="1242" y="627" width="1" height="53" fill="#c0c0c0"/>
<rect x="1250" y="626" width="1" height="54" fill="#c0c0c0"/>
<rect x="1258" y="624" width="1" height="56" fill="#c0c0c0"/>
<rect x="1266" y="624" width="1" height="56" fill="#c0c0c0"/>
<rect x="1274" y="626" width="1" height="54" fill="#c0c0c0"/>
<rect x="1282" y="625" width="1" height="55" fill="#c0c0c0"/>
<rect x="1290" y="623" width="1" height="57" fill="#c0c0c0"/>
<rect x="1298" y="620" width="1" height="60" fill="#c0c0c0"/>
<rect x="1306" y="618" width="1" height="62" fill="#c0c0c0"/>
<rect x="1314" y="618" width="1" height="62" fill="#c0c0c0"/>
<rect x="1322" y="617" width="1" height="63" fill="#c0c0c0"/>
<rect x="1330" y="615" width="1" height="65" fill="#c0c0c0"/>
<rect x="1338" y="614" width="1" height="66" fill="#c0c0c0"/>
<rect x="1346" y="614" width="1" height="66" fill="#c0c0c0"/>
<rect x="1354" y="616" width="1" height="64" fill="#c0c0c0"/>
<rect x="1362" y="616" width="1" height="64" fill="#c0c0c0"/>
<rect x="1370" y="614" width="1" height="66" fill="#c0c0c0"/>
<rect x="1378" y="611" width="1" height="69" fill="#c0c0c0"/>
<rect x="1386" y="611" width="1" height="69" fill="#c0c0c0"/>
<rect x="1394" y="610" width="1" height="70" fill="#c0c0c0"/>
<rect x="1402" y="616" width="1" height="64" fill="#c0c0c0"/>
<rect x="1410" y="617" width="1" height="63" fill="#c0c0c0"/>
<polyline points="0.5,689.1 7.6,693.9 18.3,701 27.2,705.1 36.2,708.7 48.6,710.5 61.1,709.4 71.8,705.5 80.7,700.1 89.6,693.9 100.3,687.7 111,678.8 125.3,668.4 139.5,657.4 152,649.3 164.5,643.1 178.8,640.4 187.6,640.8 198.3,644 207.2,645.8 217.9,651.1 228.6,659.5 239.3,669.8 248.2,678.8 258.9,693 269.6,705.5 280.3,714.4 291,720.1 301.7,721.2 310.6,716.2 323.1,703.7 332,689.5 340.9,675.2 351.6,660 360.5,642.8 369.4,629.7 378.3,618.2 387.2,610.7 396.2,606 405.1,603.9 414,600.9 426.5,599.1 438.9,600 449.6,601.6 462.1,601.8 471,603 485.3,603.9 496,606.6 512,609.2 526.3,611 531.6,613.7 540.5,614.9 549.4,616 558.3,619 567.2,622.6 576.2,623.9 588.6,628.8 599.3,631.5 611.8,636 624.3,639.5 635,642.6 647.5,645.2 665.3,648.5 683.1,649.9 697.4,649.9 706.3,648.8 720.5,646.3 729.4,644.9 738.3,641.9 747.2,639.5 756.2,636.5 770.4,635.1 782.9,636 795.4,636.9 806.1,639.2 820.3,641.3 831,644.5 841.7,646.3 852.4,650.6 863.1,657.4 873.8,665.4 884.5,672.5 895.2,677.9 900.5,679.6 907.6,682 913,682.7 920.1,682 927.2,678.8 936.2,674.3 946.8,668.1 954,662.4 961.1,657.7 971.8,651.1 980.7,647.6 993.2,642.2 1007.5,640.5 1018.1,639.2 1043.1,639.2 1052,641 1060.9,644 1071.6,647.6 1080.5,648.8 1089.4,652 1098.3,655.6 1107.2,659.1 1116.2,660.9 1128.6,660.4 1139.3,656.5 1151.8,649.3 1162.5,641.3 1173.2,632.4 1183.9,623.5 1194.6,616.7 1205.3,611.9 1219.5,610.7 1232,612.8 1240.9,616.4 1249.8,618.5 1260.5,622.1 1271.2,623.5 1281.9,625.8 1296.2,624.9 1306.8,623.9 1322.9,621.7 1335.4,619 1349.6,617.8 1363.9,616 1374.6,615.1 1388.8,613.7 1403.1,612.8 1410.2,613.9" fill="none" stroke="#ff0000" stroke-width="1" stroke-dasharray="3 3"/>
<line x1="1" y1="789.5" x2="1681" y2="789.5" stroke="#c0c0c0" stroke-width="1" stroke-dasharray="3 3"/>
<line x1="1" y1="840.5" x2="1681" y2="840.5" stroke="#c0c0c0" stroke-width="1" stroke-dasharray="3 3"/>
<line x1="1" y1="901.5" x2="1681" y2="901.5" stroke="#c0c0c0" stroke-width="1" stroke-dasharray="3 3"/>
<polyline points="-5.5,867.5 2.5,861 10.5,854.5 18.5,852.9 26.5,841.4 34.5,844.1 42.5,835.9 50.5,838 58.5,842.1 66.5,835.6 74.5,831 82.5,841.2 90.5,826.9 98.5,822.8 106.5,820.9 114.5,823.2 122.5,817 130.5,821.5 138.5,827.8 146.5,827.8 154.5,829.2 162.5,825.8 170.5,836.9 178.5,835 186.5,844.8 194.5,834.8 202.5,839.1 210.5,842.1 218.5,856.2 226.5,864.7 234.5,875.7 242.5,878.8 250.5,876.9 258.5,879.9 266.5,859.4 274.5,840.9 282.5,837.9 290.5,827.1 298.5,826.9 306.5,822.3 314.5,813.1 322.5,809.9 330.5,809.9 338.5,818.9 346.5,811.7 354.5,809.1 362.5,805.9 370.5,809.1 378.5,821.3 386.5,826.9 394.5,827.8 402.5,826 410.5,815.4 418.5,811.2 426.5,817 434.5,820 442.5,818.1 450.5,818.1 458.5,823.9 466.5,822.8 474.5,821 482.5,817 490.5,813 498.5,811.9 506.5,821.8 514.5,817 522.5,821.8 530.5,822.8 538.5,822.5 546.5,818.6 554.5,830.8 562.5,825 570.5,826 578.5,822.8 586.5,824.6 594.5,824.6 602.5,828.1 610.5,834.8 618.5,830.8 626.5,829.9 634.5,826.8 642.5,817.9 650.5,824.6 658.5,820.7 666.5,816.2 674.5,814.9 682.5,838.7 690.5,833.4 698.5,814.7 706.5,810.6 714.5,808 722.5,813.6 730.5,813.8 738.5,811.9 746.5,812.8 754.5,815.7 762.5,832.9 770.5,831.9 778.5,827.1 786.5,822.3 794.5,814 802.5,818.3 810.5,827.1 818.5,825 826.5,831.9 834.5,831.9 842.5,866.9 850.5,847.8 858.5,863.7 866.5,866.9 874.5,851.8 882.5,838.2 890.5,835.9 898.5,828.9 906.5,827.1 914.5,826.9 922.5,822.1 930.5,821 938.5,820 946.5,820 954.5,818.1 962.5,817.9 970.5,813.6 978.5,821 986.5,816 994.5,825 1002.5,825 1010.5,823.9 1018.5,821.8 1026.5,824.2 1034.5,806.6 1042.5,835.6 1050.5,852 1058.5,843.3 1066.5,831.9 1074.5,835.3 1082.5,844.1 1090.5,851.8 1098.5,834.5 1106.5,831 1114.5,824.6 1122.5,827.8 1130.5,818.6 1138.5,814.9 1146.5,810.1 1154.5,808.7 1162.5,808.7 1170.5,814.7 1178.5,809.8 1186.5,817.5 1194.5,827.8 1202.5,827.8 1210.5,822.8 1218.5,835.9 1226.5,833.8 1234.5,829.2 1242.5,820 1250.5,821.8 1258.5,817.9 1266.5,822.8 1274.5,824.1 1282.5,820.9 1290.5,816.1 1298.5,811.9 1306.5,813.8 1314.5,813.8 1322.5,811.6 1330.5,807.8 1338.5,807.8 1346.5,807.8 1354.5,813.4 1362.5,810.1 1370.5,803.2 1378.5,800 1386.5,804.4 1394.5,803.9 1402.5,822.5 1410.5,815.6" fill="none" stroke="#1e90ff" stroke-width="1"/>
</g>
<line x1="1087.7" y1="271" x2="1190.7" y2="129.5" stroke="#ff0000" stroke-width="3.2" stroke-linecap="butt" shape-rendering="crispEdges"/>
<polygon points="1191.3,128.7 1187.5,143.2 1178.6,136.8" fill="#ff0000" shape-rendering="crispEdges"/>
<line x1="1191" y1="130" x2="1238.5" y2="193.5" stroke="#ff0000" stroke-width="3.2" stroke-linecap="butt" shape-rendering="crispEdges"/>
<polygon points="1239.1,194.3 1226.3,186.4 1235.1,179.8" fill="#ff0000" shape-rendering="crispEdges"/>
<line x1="1245" y1="190" x2="1443.5" y2="57" stroke="#ff0000" stroke-width="3.2" stroke-linecap="butt" shape-rendering="crispEdges"/>
<polygon points="1444.3,56.4 1435.8,68.8 1429.6,59.7" fill="#ff0000" shape-rendering="crispEdges"/>
<rect x="1320" y="78" width="125" height="9" fill="#00ff00" shape-rendering="crispEdges"/>
<line x1="1273" y1="80.5" x2="1283" y2="80.5" stroke="#ff0000" stroke-width="1" shape-rendering="crispEdges"/>
<rect x="1211.5" y="71.5" width="61" height="18" fill="#fff" stroke="#ff0000" stroke-width="1" shape-rendering="crispEdges"/>
<text x="1213" y="87" font-size="16.5" fill="#ff0000" font-family="'DejaVu Sans', 'Liberation Sans', sans-serif" textLength="58" lengthAdjust="spacingAndGlyphs">33929.0</text>
<line x1="1177" y1="128.5" x2="1187" y2="128.5" stroke="#ff0000" stroke-width="1" shape-rendering="crispEdges"/>
<rect x="1115.5" y="119.5" width="61" height="18" fill="#fff" stroke="#ff0000" stroke-width="1" shape-rendering="crispEdges"/>
<text x="1117" y="135" font-size="16.5" fill="#ff0000" font-family="'DejaVu Sans', 'Liberation Sans', sans-serif" textLength="58" lengthAdjust="spacingAndGlyphs">33121.4</text>
<line x1="1025" y1="193.5" x2="1032" y2="193.5" stroke="#ff0000" stroke-width="1" shape-rendering="crispEdges"/>
<rect x="963.5" y="184.5" width="61" height="18" fill="#fff" stroke="#ff0000" stroke-width="1" shape-rendering="crispEdges"/>
<text x="965" y="200" font-size="16.5" fill="#ff0000" font-family="'DejaVu Sans', 'Liberation Sans', sans-serif" textLength="58" lengthAdjust="spacingAndGlyphs">32020.0</text>
<line x1="1225" y1="197.5" x2="1235" y2="197.5" stroke="#ff0000" stroke-width="1" shape-rendering="crispEdges"/>
<rect x="1163.5" y="188.5" width="61" height="18" fill="#fff" stroke="#ff0000" stroke-width="1" shape-rendering="crispEdges"/>
<text x="1165" y="204" font-size="16.5" fill="#ff0000" font-family="'DejaVu Sans', 'Liberation Sans', sans-serif" textLength="58" lengthAdjust="spacingAndGlyphs">31950.3</text>
<line x1="1081" y1="282.5" x2="1091" y2="282.5" stroke="#ff0000" stroke-width="1" shape-rendering="crispEdges"/>
<rect x="1019.5" y="273.5" width="61" height="18" fill="#fff" stroke="#ff0000" stroke-width="1" shape-rendering="crispEdges"/>
<text x="1021" y="289" font-size="16.5" fill="#ff0000" font-family="'DejaVu Sans', 'Liberation Sans', sans-serif" textLength="58" lengthAdjust="spacingAndGlyphs">30506.5</text>
<line x1="857" y1="340.5" x2="867" y2="340.5" stroke="#ff0000" stroke-width="1" shape-rendering="crispEdges"/>
<rect x="795.5" y="331.5" width="61" height="18" fill="#fff" stroke="#ff0000" stroke-width="1" shape-rendering="crispEdges"/>
<text x="797" y="347" font-size="16.5" fill="#ff0000" font-family="'DejaVu Sans', 'Liberation Sans', sans-serif" textLength="58" lengthAdjust="spacingAndGlyphs">29522.2</text>
<text x="1443" y="120.5" font-size="20" fill="#00ff00" font-family="'Noto Sans CJK SC', sans-serif" font-weight="300" letter-spacing="2">多空转折点</text>
<polygon points="1421.5,27 1431.5,27 1426.5,32" fill="#b4b4b4"/>
<g shape-rendering="crispEdges">
<rect x="1682" y="48" width="2" height="1" fill="#000"/>
<rect x="1682" y="81" width="2" height="1" fill="#000"/>
<rect x="1682" y="114" width="2" height="1" fill="#000"/>
<rect x="1682" y="147" width="2" height="1" fill="#000"/>
<rect x="1682" y="180" width="2" height="1" fill="#000"/>
<rect x="1682" y="213" width="2" height="1" fill="#000"/>
<rect x="1682" y="246" width="2" height="1" fill="#000"/>
<rect x="1682" y="279" width="2" height="1" fill="#000"/>
<rect x="1682" y="312" width="2" height="1" fill="#000"/>
<rect x="1682" y="345" width="2" height="1" fill="#000"/>
<rect x="1682" y="378" width="2" height="1" fill="#000"/>
<rect x="1682" y="411" width="2" height="1" fill="#000"/>
<rect x="1682" y="444" width="2" height="1" fill="#000"/>
<rect x="1682" y="477" width="2" height="1" fill="#000"/>
<rect x="1682" y="510" width="2" height="1" fill="#000"/>
<rect x="1682" y="543" width="2" height="1" fill="#000"/>
<rect x="1682" y="576" width="2" height="1" fill="#000"/>
</g>
<text x="1687" y="51.5" font-size="9.5" fill="#000" font-family="'DejaVu Sans', 'Liberation Sans', sans-serif" textLength="32" lengthAdjust="spacingAndGlyphs" stroke="#000" stroke-width="0.2">34486.0</text>
<text x="1687" y="150.5" font-size="9.5" fill="#000" font-family="'DejaVu Sans', 'Liberation Sans', sans-serif" textLength="32" lengthAdjust="spacingAndGlyphs" stroke="#000" stroke-width="0.2">32803.0</text>
<text x="1687" y="183.5" font-size="9.5" fill="#000" font-family="'DejaVu Sans', 'Liberation Sans', sans-serif" textLength="32" lengthAdjust="spacingAndGlyphs" stroke="#000" stroke-width="0.2">32242.0</text>
<text x="1687" y="216.5" font-size="9.5" fill="#000" font-family="'DejaVu Sans', 'Liberation Sans', sans-serif" textLength="32" lengthAdjust="spacingAndGlyphs" stroke="#000" stroke-width="0.2">31681.0</text>
<text x="1687" y="249.5" font-size="9.5" fill="#000" font-family="'DejaVu Sans', 'Liberation Sans', sans-serif" textLength="32" lengthAdjust="spacingAndGlyphs" stroke="#000" stroke-width="0.2">31120.0</text>
<text x="1687" y="282.5" font-size="9.5" fill="#000" font-family="'DejaVu Sans', 'Liberation Sans', sans-serif" textLength="32" lengthAdjust="spacingAndGlyphs" stroke="#000" stroke-width="0.2">30559.0</text>
<text x="1687" y="315.5" font-size="9.5" fill="#000" font-family="'DejaVu Sans', 'Liberation Sans', sans-serif" textLength="32" lengthAdjust="spacingAndGlyphs" stroke="#000" stroke-width="0.2">29998.0</text>
<text x="1687" y="348.5" font-size="9.5" fill="#000" font-family="'DejaVu Sans', 'Liberation Sans', sans-serif" textLength="32" lengthAdjust="spacingAndGlyphs" stroke="#000" stroke-width="0.2">29437.0</text>
<text x="1687" y="381.5" font-size="9.5" fill="#000" font-family="'DejaVu Sans', 'Liberation Sans', sans-serif" textLength="32" lengthAdjust="spacingAndGlyphs" stroke="#000" stroke-width="0.2">28876.0</text>
<text x="1687" y="414.5" font-size="9.5" fill="#000" font-family="'DejaVu Sans', 'Liberation Sans', sans-serif" textLength="32" lengthAdjust="spacingAndGlyphs" stroke="#000" stroke-width="0.2">28315.0</text>
<text x="1687" y="447.5" font-size="9.5" fill="#000" font-family="'DejaVu Sans', 'Liberation Sans', sans-serif" textLength="32" lengthAdjust="spacingAndGlyphs" stroke="#000" stroke-width="0.2">27754.0</text>
<text x="1687" y="480.5" font-size="9.5" fill="#000" font-family="'DejaVu Sans', 'Liberation Sans', sans-serif" textLength="32" lengthAdjust="spacingAndGlyphs" stroke="#000" stroke-width="0.2">27193.0</text>
<text x="1687" y="513.5" font-size="9.5" fill="#000" font-family="'DejaVu Sans', 'Liberation Sans', sans-serif" textLength="32" lengthAdjust="spacingAndGlyphs" stroke="#000" stroke-width="0.2">26632.0</text>
<text x="1687" y="546.5" font-size="9.5" fill="#000" font-family="'DejaVu Sans', 'Liberation Sans', sans-serif" textLength="32" lengthAdjust="spacingAndGlyphs" stroke="#000" stroke-width="0.2">26071.0</text>
<text x="1687" y="579.5" font-size="9.5" fill="#000" font-family="'DejaVu Sans', 'Liberation Sans', sans-serif" textLength="32" lengthAdjust="spacingAndGlyphs" stroke="#000" stroke-width="0.2">25526.5</text>
<rect x="1683" y="37.5" width="40" height="11" fill="#ff0000"/>
<text x="1687" y="46.0" font-size="9.5" fill="#fff" font-family="'DejaVu Sans', 'Liberation Sans', sans-serif" textLength="32" lengthAdjust="spacingAndGlyphs" stroke="#fff" stroke-width="0.2">34551.0</text>
<rect x="1683" y="50.5" width="40" height="11" fill="#ff0000"/>
<text x="1687" y="59.0" font-size="9.5" fill="#fff" font-family="'DejaVu Sans', 'Liberation Sans', sans-serif" textLength="32" lengthAdjust="spacingAndGlyphs" stroke="#fff" stroke-width="0.2">34344.4</text>
<rect x="1683" y="72.5" width="40" height="11" fill="#000000"/>
<text x="1687" y="81.0" font-size="9.5" fill="#fff" font-family="'DejaVu Sans', 'Liberation Sans', sans-serif" textLength="32" lengthAdjust="spacingAndGlyphs" stroke="#fff" stroke-width="0.2">33976.0</text>
<rect x="1683" y="74.5" width="40" height="11" fill="#3cc43c"/>
<text x="1687" y="83.0" font-size="9.5" fill="#fff" font-family="'DejaVu Sans', 'Liberation Sans', sans-serif" textLength="32" lengthAdjust="spacingAndGlyphs" stroke="#fff" stroke-width="0.2">33929.0</text>
<rect x="1683" y="111.5" width="40" height="11" fill="#0000ff"/>
<text x="1687" y="120.0" font-size="9.5" fill="#fff" font-family="'DejaVu Sans', 'Liberation Sans', sans-serif" textLength="32" lengthAdjust="spacingAndGlyphs" stroke="#fff" stroke-width="0.2">33307.1</text>
<rect x="1683" y="127.5" width="40" height="11" fill="#0000ff"/>
<text x="1687" y="136.0" font-size="9.5" fill="#fff" font-family="'DejaVu Sans', 'Liberation Sans', sans-serif" textLength="32" lengthAdjust="spacingAndGlyphs" stroke="#fff" stroke-width="0.2">33036.0</text>
<g shape-rendering="crispEdges">
<rect x="1682" y="583" width="2" height="1" fill="#000"/>
<rect x="1682" y="679" width="2" height="1" fill="#000"/>
<rect x="1682" y="750" width="2" height="1" fill="#000"/>
<rect x="1682" y="755" width="2" height="1" fill="#000"/>
<rect x="1682" y="926" width="2" height="1" fill="#000"/>
<rect x="1681" y="789" width="1" height="1" fill="#fff"/>
<rect x="1681" y="840" width="1" height="1" fill="#fff"/>
<rect x="1681" y="901" width="1" height="1" fill="#fff"/>
</g>
<text x="1685" y="592" font-size="9.5" fill="#000" font-family="'DejaVu Sans', 'Liberation Sans', sans-serif" textLength="27.5" lengthAdjust="spacingAndGlyphs" stroke="#000" stroke-width="0.2">565.66</text>
<text x="1685" y="682.6" font-size="9.5" fill="#000" font-family="'DejaVu Sans', 'Liberation Sans', sans-serif" textLength="17.5" lengthAdjust="spacingAndGlyphs" stroke="#000" stroke-width="0.2">0.00</text>
<text x="1685" y="747.6" font-size="9.5" fill="#000" font-family="'DejaVu Sans', 'Liberation Sans', sans-serif" textLength="32" lengthAdjust="spacingAndGlyphs" stroke="#000" stroke-width="0.2">-419.33</text>
<text x="1685.5" y="764" font-size="9.5" fill="#000" font-family="'DejaVu Sans', 'Liberation Sans', sans-serif" textLength="15" lengthAdjust="spacingAndGlyphs" stroke="#000" stroke-width="0.2">100</text>
<text x="1685" y="792.3" font-size="9.5" fill="#000" font-family="'DejaVu Sans', 'Liberation Sans', sans-serif" textLength="10" lengthAdjust="spacingAndGlyphs" stroke="#000" stroke-width="0.2">80</text>
<text x="1685" y="843.5" font-size="9.5" fill="#000" font-family="'DejaVu Sans', 'Liberation Sans', sans-serif" textLength="10" lengthAdjust="spacingAndGlyphs" stroke="#000" stroke-width="0.2">50</text>
<text x="1684.7" y="905" font-size="9.5" fill="#000" font-family="'DejaVu Sans', 'Liberation Sans', sans-serif" textLength="9.5" lengthAdjust="spacingAndGlyphs" stroke="#000" stroke-width="0.2">15</text>
<text x="1684.8" y="924" font-size="9.5" fill="#000" font-family="'DejaVu Sans', 'Liberation Sans', sans-serif" textLength="5" lengthAdjust="spacingAndGlyphs" stroke="#000" stroke-width="0.2">0</text>
<g shape-rendering="crispEdges">
<rect x="58" y="928" width="1" height="3" fill="#000"/>
<rect x="122" y="928" width="1" height="3" fill="#000"/>
<rect x="186" y="928" width="1" height="3" fill="#000"/>
<rect x="250" y="928" width="1" height="3" fill="#000"/>
<rect x="314" y="928" width="1" height="3" fill="#000"/>
<rect x="378" y="928" width="1" height="3" fill="#000"/>
<rect x="442" y="928" width="1" height="3" fill="#000"/>
<rect x="506" y="928" width="1" height="3" fill="#000"/>
<rect x="570" y="928" width="1" height="3" fill="#000"/>
<rect x="634" y="928" width="1" height="3" fill="#000"/>
<rect x="698" y="928" width="1" height="3" fill="#000"/>
<rect x="762" y="928" width="1" height="3" fill="#000"/>
<rect x="826" y="928" width="1" height="3" fill="#000"/>
<rect x="890" y="928" width="1" height="3" fill="#000"/>
<rect x="954" y="928" width="1" height="3" fill="#000"/>
<rect x="1018" y="928" width="1" height="3" fill="#000"/>
<rect x="1082" y="928" width="1" height="3" fill="#000"/>
<rect x="1146" y="928" width="1" height="3" fill="#000"/>
<rect x="1210" y="928" width="1" height="3" fill="#000"/>
<rect x="1274" y="928" width="1" height="3" fill="#000"/>
<rect x="1338" y="928" width="1" height="3" fill="#000"/>
<rect x="1402" y="928" width="1" height="3" fill="#000"/>
</g>
<text x="-7.2" y="940" font-size="9.6" fill="#000" font-family="'DejaVu Sans', 'Liberation Sans', sans-serif" textLength="52.0" lengthAdjust="spacingAndGlyphs" stroke="#000" stroke-width="0.2">28 Sep 2020</text>
<text x="57" y="940" font-size="9.6" fill="#000" font-family="'DejaVu Sans', 'Liberation Sans', sans-serif" textLength="45.5" lengthAdjust="spacingAndGlyphs" stroke="#000" stroke-width="0.2">2 Oct 2020</text>
<text x="121" y="940" font-size="9.6" fill="#000" font-family="'DejaVu Sans', 'Liberation Sans', sans-serif" textLength="50.7" lengthAdjust="spacingAndGlyphs" stroke="#000" stroke-width="0.2">12 Oct 2020</text>
<text x="185" y="940" font-size="9.6" fill="#000" font-family="'DejaVu Sans', 'Liberation Sans', sans-serif" textLength="50.7" lengthAdjust="spacingAndGlyphs" stroke="#000" stroke-width="0.2">21 Oct 2020</text>
<text x="249" y="940" font-size="9.6" fill="#000" font-family="'DejaVu Sans', 'Liberation Sans', sans-serif" textLength="50.7" lengthAdjust="spacingAndGlyphs" stroke="#000" stroke-width="0.2">30 Oct 2020</text>
<text x="313" y="940" font-size="9.6" fill="#000" font-family="'DejaVu Sans', 'Liberation Sans', sans-serif" textLength="47.3" lengthAdjust="spacingAndGlyphs" stroke="#000" stroke-width="0.2">9 Nov 2020</text>
<text x="377" y="940" font-size="9.6" fill="#000" font-family="'DejaVu Sans', 'Liberation Sans', sans-serif" textLength="52.6" lengthAdjust="spacingAndGlyphs" stroke="#000" stroke-width="0.2">18 Nov 2020</text>
<text x="441" y="940" font-size="9.6" fill="#000" font-family="'DejaVu Sans', 'Liberation Sans', sans-serif" textLength="52.6" lengthAdjust="spacingAndGlyphs" stroke="#000" stroke-width="0.2">27 Nov 2020</text>
<text x="505" y="940" font-size="9.6" fill="#000" font-family="'DejaVu Sans', 'Liberation Sans', sans-serif" textLength="47.2" lengthAdjust="spacingAndGlyphs" stroke="#000" stroke-width="0.2">7 Dec 2020</text>
<text x="569" y="940" font-size="9.6" fill="#000" font-family="'DejaVu Sans', 'Liberation Sans', sans-serif" textLength="52.4" lengthAdjust="spacingAndGlyphs" stroke="#000" stroke-width="0.2">16 Dec 2020</text>
<text x="633" y="940" font-size="9.6" fill="#000" font-family="'DejaVu Sans', 'Liberation Sans', sans-serif" textLength="52.4" lengthAdjust="spacingAndGlyphs" stroke="#000" stroke-width="0.2">27 Dec 2020</text>
<text x="697" y="940" font-size="9.6" fill="#000" font-family="'DejaVu Sans', 'Liberation Sans', sans-serif" textLength="44.0" lengthAdjust="spacingAndGlyphs" stroke="#000" stroke-width="0.2">6 Jan 2021</text>
<text x="761" y="940" font-size="9.6" fill="#000" font-family="'DejaVu Sans', 'Liberation Sans', sans-serif" textLength="49.2" lengthAdjust="spacingAndGlyphs" stroke="#000" stroke-width="0.2">15 Jan 2021</text>
<text x="825" y="940" font-size="9.6" fill="#000" font-family="'DejaVu Sans', 'Liberation Sans', sans-serif" textLength="49.2" lengthAdjust="spacingAndGlyphs" stroke="#000" stroke-width="0.2">25 Jan 2021</text>
<text x="889" y="940" font-size="9.6" fill="#000" font-family="'DejaVu Sans', 'Liberation Sans', sans-serif" textLength="45.9" lengthAdjust="spacingAndGlyphs" stroke="#000" stroke-width="0.2">3 Feb 2021</text>
<text x="953" y="940" font-size="9.6" fill="#000" font-family="'DejaVu Sans', 'Liberation Sans', sans-serif" textLength="51.1" lengthAdjust="spacingAndGlyphs" stroke="#000" stroke-width="0.2">12 Feb 2021</text>
<text x="1017" y="940" font-size="9.6" fill="#000" font-family="'DejaVu Sans', 'Liberation Sans', sans-serif" textLength="51.1" lengthAdjust="spacingAndGlyphs" stroke="#000" stroke-width="0.2">22 Feb 2021</text>
<text x="1081" y="940" font-size="9.6" fill="#000" font-family="'DejaVu Sans', 'Liberation Sans', sans-serif" textLength="46.8" lengthAdjust="spacingAndGlyphs" stroke="#000" stroke-width="0.2">3 Mar 2021</text>
<text x="1145" y="940" font-size="9.6" fill="#000" font-family="'DejaVu Sans', 'Liberation Sans', sans-serif" textLength="52.0" lengthAdjust="spacingAndGlyphs" stroke="#000" stroke-width="0.2">12 Mar 2021</text>
<text x="1209" y="940" font-size="9.6" fill="#000" font-family="'DejaVu Sans', 'Liberation Sans', sans-serif" textLength="52.0" lengthAdjust="spacingAndGlyphs" stroke="#000" stroke-width="0.2">22 Mar 2021</text>
<text x="1273" y="940" font-size="9.6" fill="#000" font-family="'DejaVu Sans', 'Liberation Sans', sans-serif" textLength="52.0" lengthAdjust="spacingAndGlyphs" stroke="#000" stroke-width="0.2">31 Mar 2021</text>
<text x="1337" y="940" font-size="9.6" fill="#000" font-family="'DejaVu Sans', 'Liberation Sans', sans-serif" textLength="50.8" lengthAdjust="spacingAndGlyphs" stroke="#000" stroke-width="0.2">11 Apr 2021</text>
<text x="1401" y="940" font-size="9.6" fill="#000" font-family="'DejaVu Sans', 'Liberation Sans', sans-serif" textLength="50.8" lengthAdjust="spacingAndGlyphs" stroke="#000" stroke-width="0.2">20 Apr 2021</text>
<polygon points="0,32 4.5,37.5 0,37.5" fill="#000"/>
<text x="9.5" y="38" font-size="9.6" fill="#000" font-family="'DejaVu Sans', 'Liberation Sans', sans-serif" textLength="47.5" lengthAdjust="spacingAndGlyphs" stroke="#000" stroke-width="0.2">DJ30-,Daily</text>
<text x="64.2" y="38" font-size="9.6" fill="#000" font-family="'DejaVu Sans', 'Liberation Sans', sans-serif" textLength="33" lengthAdjust="spacingAndGlyphs" stroke="#000" stroke-width="0.2">33699.0</text>
<text x="100.3" y="38" font-size="9.6" fill="#000" font-family="'DejaVu Sans', 'Liberation Sans', sans-serif" textLength="33" lengthAdjust="spacingAndGlyphs" stroke="#000" stroke-width="0.2">34036.0</text>
<text x="136" y="38" font-size="9.6" fill="#000" font-family="'DejaVu Sans', 'Liberation Sans', sans-serif" textLength="33" lengthAdjust="spacingAndGlyphs" stroke="#000" stroke-width="0.2">33622.0</text>
<text x="172" y="38" font-size="9.6" fill="#000" font-family="'DejaVu Sans', 'Liberation Sans', sans-serif" textLength="33" lengthAdjust="spacingAndGlyphs" stroke="#000" stroke-width="0.2">33976.0</text>
<text x="0" y="594" font-size="9.6" fill="#000" font-family="'DejaVu Sans', 'Liberation Sans', sans-serif" textLength="125.5" lengthAdjust="spacingAndGlyphs" stroke="#000" stroke-width="0.2">MACD(12,26,9) 371.86 388.32</text>
<text x="-1.5" y="766" font-size="9.6" fill="#000" font-family="'DejaVu Sans', 'Liberation Sans', sans-serif" textLength="67" lengthAdjust="spacingAndGlyphs" stroke="#000" stroke-width="0.2">RSI(14) 65.4697</text>
<defs><linearGradient id="rtop" x1="0" y1="0" x2="0" y2="1"><stop offset="0" stop-color="#fa5a5a"/><stop offset="1" stop-color="#e03434"/></linearGradient><linearGradient id="rbot" x1="0" y1="0" x2="0" y2="1"><stop offset="0" stop-color="#e43a3a"/><stop offset="0.5" stop-color="#cc1c1c"/><stop offset="1" stop-color="#b00404"/></linearGradient><linearGradient id="btn" x1="0" y1="0" x2="0" y2="1"><stop offset="0" stop-color="#f2f2f2"/><stop offset="0.36" stop-color="#ececec"/><stop offset="0.37" stop-color="#dcdcdc"/><stop offset="1" stop-color="#d2d2d2"/></linearGradient></defs>
<g shape-rendering="crispEdges">
<rect x="0" y="45" width="218" height="66" fill="#fff"/>
<rect x="49" y="46" width="115" height="24" fill="#fff"/>
<rect x="0" y="46" width="49" height="24" fill="#b40000"/>
<rect x="0" y="47" width="48" height="22" fill="url(#rtop)"/>
<rect x="1" y="69" width="44" height="1" fill="#880000"/>
<rect x="164" y="46" width="52" height="24" fill="#b40000"/>
<rect x="165" y="47" width="50" height="22" fill="url(#rtop)"/>
<rect x="168" y="69" width="44" height="1" fill="#880000"/>
<rect x="0" y="70" width="106" height="40" fill="#b40000"/>
<rect x="0" y="71" width="105" height="38" fill="url(#rbot)"/>
<rect x="108" y="70" width="108" height="40" fill="#b40000"/>
<rect x="109" y="71" width="106" height="38" fill="url(#rbot)"/>
<rect x="1" y="70" width="44" height="1" fill="#f07070"/>
<rect x="168" y="70" width="44" height="1" fill="#f07070"/>
<rect x="51" y="46" width="111" height="22" fill="#a8acb4"/>
<rect x="52" y="47" width="109" height="20" fill="#fff"/>
<rect x="53" y="48" width="18" height="18" fill="url(#btn)"/>
<rect x="72" y="47" width="1" height="20" fill="#a8acb4"/>
<rect x="141" y="47" width="1" height="20" fill="#a8acb4"/>
<rect x="143" y="48" width="18" height="18" fill="url(#btn)"/>
</g>
<polygon points="59,55 64,55 61.5,58" fill="#4858c0"/>
<polygon points="149.5,58 154.5,58 152,55" fill="#4858c0"/>
<text x="113.5" y="61.2" font-size="12.5" font-family="'DejaVu Sans', 'Liberation Sans', sans-serif" fill="#000" textLength="23" lengthAdjust="spacingAndGlyphs">1.00</text>
<text x="9" y="62" font-size="12.5" font-family="'DejaVu Sans', 'Liberation Sans', sans-serif" fill="#fff" textLength="26" lengthAdjust="spacingAndGlyphs">SELL</text>
<text x="177.5" y="62" font-size="12.5" font-family="'DejaVu Sans', 'Liberation Sans', sans-serif" fill="#fff" textLength="23.5" lengthAdjust="spacingAndGlyphs">BUY</text>
<text x="13" y="101.3" font-size="12.5" font-weight="bold" font-family="'DejaVu Sans', 'Liberation Sans', sans-serif" fill="#fff" textLength="35" lengthAdjust="spacingAndGlyphs">33974</text>
<text x="123.5" y="101.3" font-size="12.5" font-weight="bold" font-family="'DejaVu Sans', 'Liberation Sans', sans-serif" fill="#fff" textLength="34" lengthAdjust="spacingAndGlyphs">33983</text>
<rect x="52" y="97.3" width="4.5" height="4" rx="1.5" fill="#fff"/><rect x="163" y="97.3" width="4.5" height="4" rx="1.5" fill="#fff"/>
<text x="59.5" y="100.8" font-size="32" font-weight="200" font-family="'DejaVu Sans', 'Liberation Sans', sans-serif" fill="#fff" stroke="#fff" stroke-width="1.1" textLength="15" lengthAdjust="spacingAndGlyphs">5</text>
<text x="170.5" y="100.8" font-size="32" font-weight="200" font-family="'DejaVu Sans', 'Liberation Sans', sans-serif" fill="#fff" stroke="#fff" stroke-width="1.1" textLength="15" lengthAdjust="spacingAndGlyphs">5</text>
</svg>
</body></html>
